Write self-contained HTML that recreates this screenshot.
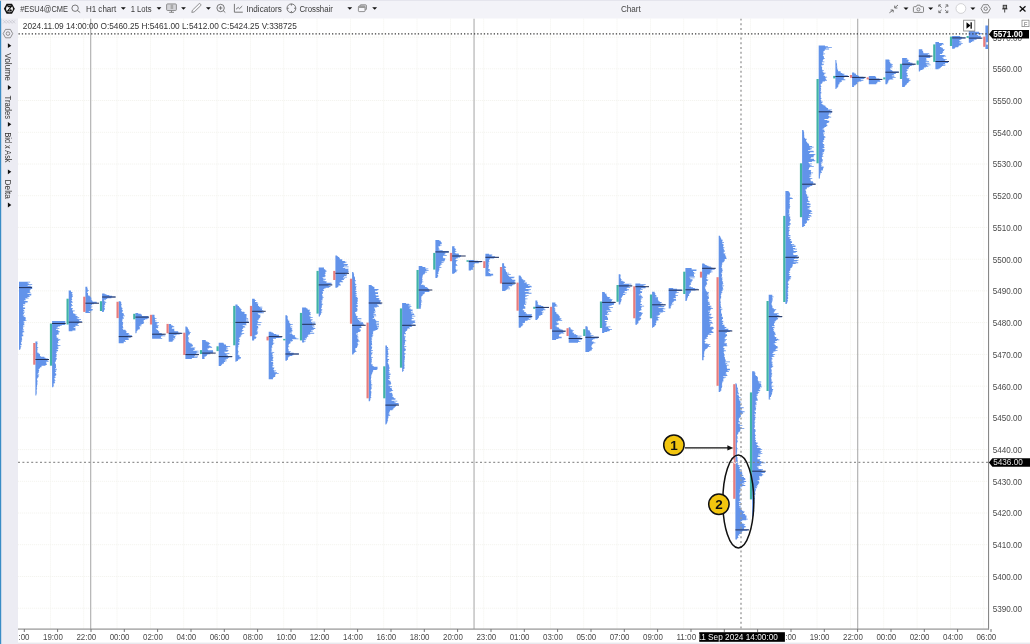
<!DOCTYPE html>
<html><head><meta charset="utf-8"><title>Chart</title>
<style>
html,body{margin:0;padding:0;background:#fff;}
body{width:1030px;height:644px;overflow:hidden;font-family:"Liberation Sans",sans-serif;}
svg{display:block;position:absolute;left:0;top:0;}
text{font-family:"Liberation Sans",sans-serif;}
.tb{font-size:8.6px;fill:#333;}
.ax{font-size:8.3px;fill:#4a4a4a;}
</style></head><body>
<svg width="1030" height="644" viewBox="0 0 1030 644">

<rect x="0" y="0" width="1030" height="644" fill="#fff"/>
<g stroke="#f4f4ef" stroke-width="1" stroke-dasharray="1.2 0.8" fill="none">
<path d="M18,608.2H988.5"/>
<path d="M18,576.5H988.5"/>
<path d="M18,544.7H988.5"/>
<path d="M18,513.0H988.5"/>
<path d="M18,481.3H988.5"/>
<path d="M18,449.6H988.5"/>
<path d="M18,417.8H988.5"/>
<path d="M18,386.1H988.5"/>
<path d="M18,354.4H988.5"/>
<path d="M18,322.6H988.5"/>
<path d="M18,290.9H988.5"/>
<path d="M18,259.2H988.5"/>
<path d="M18,227.4H988.5"/>
<path d="M18,195.7H988.5"/>
<path d="M18,164.0H988.5"/>
<path d="M18,132.3H988.5"/>
<path d="M18,100.5H988.5"/>
<path d="M18,68.8H988.5"/>
<path d="M18,37.1H988.5"/>
<path d="M17.0,18.5V629"/>
<path d="M50.4,18.5V629"/>
<path d="M83.7,18.5V629"/>
<path d="M117.0,18.5V629"/>
<path d="M150.4,18.5V629"/>
<path d="M183.7,18.5V629"/>
<path d="M217.0,18.5V629"/>
<path d="M250.4,18.5V629"/>
<path d="M283.7,18.5V629"/>
<path d="M317.0,18.5V629"/>
<path d="M350.4,18.5V629"/>
<path d="M383.7,18.5V629"/>
<path d="M417.0,18.5V629"/>
<path d="M450.4,18.5V629"/>
<path d="M483.7,18.5V629"/>
<path d="M517.0,18.5V629"/>
<path d="M550.4,18.5V629"/>
<path d="M583.7,18.5V629"/>
<path d="M617.0,18.5V629"/>
<path d="M650.4,18.5V629"/>
<path d="M683.7,18.5V629"/>
<path d="M717.0,18.5V629"/>
<path d="M750.4,18.5V629"/>
<path d="M783.7,18.5V629"/>
<path d="M817.0,18.5V629"/>
<path d="M850.4,18.5V629"/>
<path d="M883.7,18.5V629"/>
<path d="M917.1,18.5V629"/>
<path d="M950.4,18.5V629"/>
<path d="M983.7,18.5V629"/>
</g>
<rect x="90.0" y="18.5" width="1.3" height="610.5" fill="#b9b9b9"/>
<rect x="473.4" y="18.5" width="1.3" height="610.5" fill="#b9b9b9"/>
<rect x="857.0" y="18.5" width="1.3" height="610.5" fill="#b9b9b9"/>
<g>
<path d="M19.0,281.80H30.2V282.60H27.7V283.40H29.0V284.20H32.2V285.00H27.7V285.80H30.8V286.60H32.2V287.40H32.2V288.20H32.2V289.00H30.8V289.80H29.7V290.60H30.1V291.40H29.6V292.20H30.5V293.00H27.5V293.80H31.4V294.60H31.2V295.40H28.8V296.20H29.8V297.00H27.4V297.80H28.7V298.60H25.2V299.40H26.1V300.20H24.3V301.00H27.7V301.80H27.6V302.60H25.2V303.40H25.3V304.20H23.1V305.00H24.5V305.80H23.0V306.60H23.1V307.40H25.1V308.20H25.1V309.00H23.2V309.80H24.0V310.60H24.5V311.40H23.0V312.20H24.6V313.00H24.0V313.80H23.7V314.60H22.9V315.40H24.7V316.20H23.8V317.00H25.6V317.80H25.4V318.60H26.0V319.40H25.1V320.20H26.4V321.00H23.6V321.80H24.6V322.60H23.7V323.40H24.3V324.20H24.3V325.00H23.1V325.80H24.4V326.60H22.9V327.40H23.4V328.20H23.0V329.00H23.7V329.80H22.5V330.60H23.7V331.40H24.3V332.20H22.7V333.00H22.6V333.80H22.3V334.60H23.2V335.40H23.3V336.20H21.8V337.00H21.7V337.80H22.1V338.60H21.9V339.40H22.2V340.20H21.6V341.00H21.9V341.80H21.1V342.60H21.1V343.40H21.4V344.20H21.8V345.00H20.3V345.80H21.4V346.60H20.7V347.40H20.7V348.20H20.5V349.00H20.2V349.80H19.0Z" fill="#6293ea"/>
<rect x="19.0" y="287.10" width="13" height="1.0" fill="#22315a"/>
<path d="M35.4,341.60H37.5V342.40H37.2V343.21H37.7V344.01H37.2V344.81H37.5V345.61H37.0V346.42H37.3V347.22H38.2V348.02H37.3V348.83H37.7V349.63H37.0V350.43H37.7V351.24H37.2V352.04H37.4V352.84H38.7V353.64H39.9V354.45H40.0V355.25H40.0V356.05H40.7V356.86H44.4V357.66H45.6V358.46H47.8V359.27H47.0V360.07H47.5V360.87H48.6V361.67H45.9V362.48H46.5V363.28H46.4V364.08H46.8V364.89H45.5V365.69H41.5V366.49H41.5V367.30H40.1V368.10H39.6V368.90H38.6V369.70H39.1V370.51H39.1V371.31H38.7V372.11H38.7V372.92H38.2V373.72H37.5V374.52H39.2V375.33H38.4V376.13H38.7V376.93H38.2V377.73H37.5V378.54H37.2V379.34H37.0V380.14H37.5V380.95H37.6V381.75H37.3V382.55H37.3V383.36H37.4V384.16H37.3V384.96H37.1V385.76H37.0V386.57H37.1V387.37H36.7V388.17H37.1V388.98H36.9V389.78H36.5V390.58H36.7V391.39H36.7V392.19H36.7V392.99H36.7V393.79H36.5V394.60H36.3V395.40H35.4Z" fill="#6293ea"/>
<rect x="33.2" y="343.0" width="2.2" height="21.7" fill="#e87c7c"/>
<rect x="35.4" y="359.00" width="13.6" height="1.0" fill="#22315a"/>
<path d="M52.1,321.00H65.3V321.80H65.3V322.60H65.3V323.39H64.7V324.19H65.3V324.99H61.7V325.79H59.9V326.58H57.9V327.38H56.7V328.18H59.3V328.98H56.0V329.77H58.0V330.57H58.7V331.37H59.8V332.17H58.5V332.96H58.6V333.76H58.8V334.56H57.1V335.36H56.3V336.15H56.8V336.95H56.7V337.75H58.4V338.55H57.8V339.34H60.3V340.14H58.8V340.94H58.0V341.74H58.1V342.53H58.5V343.33H57.4V344.13H57.9V344.93H60.4V345.73H58.4V346.52H57.4V347.32H58.3V348.12H58.3V348.92H56.7V349.71H57.9V350.51H58.1V351.31H56.5V352.11H56.6V352.90H55.9V353.70H56.5V354.50H57.1V355.30H56.3V356.09H56.5V356.89H55.7V357.69H56.6V358.49H56.9V359.28H56.3V360.08H55.9V360.88H55.9V361.68H54.9V362.47H55.2V363.27H55.4V364.07H55.8V364.87H56.0V365.67H55.8V366.46H56.1V367.26H56.0V368.06H55.1V368.86H56.8V369.65H55.3V370.45H56.3V371.25H55.9V372.05H55.0V372.84H55.6V373.64H56.3V374.44H56.2V375.24H55.6V376.03H54.7V376.83H55.6V377.63H54.8V378.43H54.1V379.22H54.9V380.02H55.4V380.82H54.5V381.62H54.7V382.41H55.1V383.21H53.7V384.01H53.6V384.81H53.7V385.60H53.7V386.40H53.2V387.20H52.1Z" fill="#6293ea"/>
<rect x="49.9" y="323.5" width="2.2" height="42.2" fill="#40b3a6"/>
<rect x="52.1" y="323.00" width="13.6" height="1.0" fill="#22315a"/>
<path d="M68.7,290.50H71.0V291.30H71.1V292.10H72.4V292.90H71.8V293.70H72.3V294.50H72.7V295.30H72.4V296.10H72.7V296.90H72.1V297.70H71.6V298.50H72.0V299.30H72.2V300.10H71.5V300.90H72.0V301.70H73.0V302.50H71.6V303.30H71.1V304.10H72.0V304.90H72.8V305.70H71.3V306.50H71.6V307.30H70.9V308.10H72.7V308.90H72.2V309.70H72.4V310.50H74.8V311.30H73.2V312.10H73.0V312.90H73.5V313.70H75.2V314.50H76.6V315.30H75.6V316.10H77.5V316.90H79.2V317.70H76.8V318.50H78.4V319.30H81.0V320.10H79.3V320.90H81.9V321.70H79.4V322.50H79.3V323.30H78.4V324.10H77.6V324.90H78.9V325.70H75.2V326.50H75.7V327.30H73.7V328.10H75.4V328.90H75.4V329.70H75.5V330.50H72.4V331.30H68.7Z" fill="#6293ea"/>
<rect x="66.5" y="298.7" width="2.2" height="25.8" fill="#40b3a6"/>
<rect x="68.7" y="321.70" width="13.6" height="1.0" fill="#22315a"/>
<path d="M85.4,286.70H87.4V287.49H87.1V288.29H87.7V289.08H87.7V289.88H88.8V290.67H87.7V291.46H87.8V292.26H87.1V293.05H88.0V293.85H88.0V294.64H88.0V295.43H89.5V296.23H90.3V297.02H90.8V297.82H91.4V298.61H91.2V299.40H91.4V300.20H92.2V300.99H92.5V301.78H96.6V302.58H96.9V303.37H93.8V304.17H92.0V304.96H91.3V305.75H90.4V306.55H92.4V307.34H91.2V308.14H90.8V308.93H92.8V309.72H92.5V310.52H91.3V311.31H88.8V312.11H90.3V312.90H85.4Z" fill="#6293ea"/>
<rect x="83.2" y="296.7" width="2.2" height="15.2" fill="#e87c7c"/>
<rect x="85.4" y="302.70" width="13.6" height="1.0" fill="#22315a"/>
<path d="M102.1,293.40H104.6V294.20H106.5V295.01H109.3V295.81H112.1V296.62H115.3V297.42H111.4V298.23H107.2V299.03H106.1V299.83H103.9V300.64H105.5V301.44H104.4V302.25H106.3V303.05H105.1V303.86H105.2V304.66H104.5V305.47H104.3V306.27H104.8V307.07H104.3V307.88H104.8V308.68H104.9V309.49H104.4V310.29H104.0V311.10H103.8V311.90H102.1Z" fill="#6293ea"/>
<rect x="99.9" y="301.2" width="2.2" height="9.8" fill="#40b3a6"/>
<rect x="102.1" y="296.50" width="13.6" height="1.0" fill="#22315a"/>
<path d="M118.7,301.20H120.7V301.99H121.3V302.79H121.0V303.58H121.4V304.38H121.9V305.17H121.1V305.97H121.3V306.76H121.4V307.55H122.1V308.35H122.6V309.14H121.9V309.94H122.9V310.73H122.4V311.53H122.7V312.32H121.9V313.12H123.5V313.91H123.9V314.70H123.6V315.50H124.8V316.29H122.9V317.09H123.5V317.88H123.8V318.68H122.4V319.47H122.6V320.26H122.3V321.06H122.0V321.85H123.1V322.65H123.2V323.44H122.8V324.24H122.9V325.03H122.5V325.82H122.9V326.62H123.0V327.41H123.4V328.21H122.5V329.00H123.0V329.80H125.4V330.59H126.1V331.38H126.8V332.18H126.2V332.97H129.2V333.77H128.2V334.56H129.6V335.36H131.9V336.15H128.0V336.95H130.8V337.74H127.8V338.53H129.1V339.33H128.6V340.12H125.1V340.92H125.9V341.71H123.7V342.51H123.7V343.30H118.7Z" fill="#6293ea"/>
<rect x="116.5" y="301.8" width="2.2" height="16.3" fill="#e87c7c"/>
<rect x="118.7" y="336.10" width="13.6" height="1.0" fill="#22315a"/>
<path d="M135.4,312.90H138.2V313.68H140.8V314.47H141.9V315.25H141.9V316.04H148.1V316.82H148.6V317.61H148.6V318.39H147.4V319.18H145.1V319.96H143.7V320.75H143.7V321.53H143.6V322.32H144.0V323.10H143.5V323.88H141.7V324.67H140.3V325.45H141.4V326.24H139.3V327.02H139.7V327.81H140.0V328.59H139.5V329.38H137.8V330.16H137.3V330.95H136.6V331.73H136.8V332.52H136.3V333.30H135.4Z" fill="#6293ea"/>
<rect x="133.2" y="313.8" width="2.2" height="5.5" fill="#40b3a6"/>
<rect x="135.4" y="316.60" width="13.6" height="1.0" fill="#22315a"/>
<path d="M152.1,314.80H154.4V315.60H154.7V316.39H154.3V317.19H154.9V317.99H156.5V318.78H154.9V319.58H155.0V320.38H156.5V321.17H155.2V321.97H158.9V322.77H156.7V323.56H157.6V324.36H156.7V325.16H158.7V325.95H157.8V326.75H158.4V327.55H157.9V328.34H155.9V329.14H157.1V329.94H158.0V330.73H158.6V331.53H159.4V332.33H159.1V333.12H161.7V333.92H164.2V334.72H162.5V335.51H165.3V336.31H161.2V337.11H160.9V337.90H162.2V338.70H152.1Z" fill="#6293ea"/>
<rect x="149.9" y="314.8" width="2.2" height="9.7" fill="#e87c7c"/>
<rect x="152.1" y="333.70" width="13.6" height="1.0" fill="#22315a"/>
<path d="M168.7,323.90H171.0V324.71H171.4V325.53H172.8V326.34H174.2V327.15H172.2V327.97H171.8V328.78H174.4V329.60H174.1V330.41H174.5V331.22H178.2V332.04H178.4V332.85H180.9V333.66H179.7V334.48H176.5V335.29H173.7V336.10H175.4V336.92H174.9V337.73H175.4V338.55H173.2V339.36H174.2V340.17H172.8V340.99H172.6V341.80H168.7Z" fill="#6293ea"/>
<rect x="166.5" y="323.9" width="2.2" height="9.4" fill="#e87c7c"/>
<rect x="168.7" y="332.80" width="13.6" height="1.0" fill="#22315a"/>
<path d="M185.4,326.50H186.7V327.31H187.7V328.12H187.9V328.93H188.6V329.74H188.5V330.55H189.3V331.36H189.4V332.17H190.8V332.98H189.9V333.79H189.9V334.60H188.6V335.41H188.2V336.22H188.0V337.03H188.5V337.84H188.9V338.65H187.9V339.46H189.2V340.27H188.3V341.08H188.5V341.89H189.1V342.70H190.3V343.51H191.7V344.32H192.4V345.13H193.0V345.94H192.5V346.75H190.7V347.56H195.3V348.37H194.4V349.18H194.7V349.99H193.3V350.80H198.6V351.61H196.7V352.42H198.6V353.23H196.3V354.04H198.6V354.85H194.9V355.66H198.0V356.47H194.2V357.28H197.4V358.09H191.9V358.90H185.4Z" fill="#6293ea"/>
<rect x="183.2" y="332.7" width="2.2" height="22.3" fill="#e87c7c"/>
<rect x="185.4" y="354.10" width="13.6" height="1.0" fill="#22315a"/>
<path d="M202.1,339.90H205.7V340.69H205.8V341.48H207.5V342.28H209.1V343.07H210.2V343.86H209.2V344.65H208.4V345.44H209.8V346.23H211.3V347.03H212.1V347.82H208.9V348.61H207.4V349.40H208.1V350.19H213.0V350.98H213.1V351.78H213.2V352.57H212.8V353.36H210.2V354.15H207.4V354.94H207.0V355.73H206.1V356.53H204.6V357.32H204.4V358.11H204.6V358.90H202.1Z" fill="#6293ea"/>
<rect x="199.9" y="350.1" width="2.2" height="3.9" fill="#40b3a6"/>
<rect x="202.1" y="352.60" width="13.6" height="1.0" fill="#22315a"/>
<path d="M218.7,342.80H223.4V343.60H224.1V344.41H226.0V345.21H226.1V346.01H230.2V346.82H227.6V347.62H226.4V348.42H228.1V349.23H226.3V350.03H228.5V350.83H227.6V351.64H224.3V352.44H225.3V353.24H229.4V354.05H226.6V354.85H227.9V355.66H226.5V356.46H231.9V357.26H228.7V358.07H228.0V358.87H226.4V359.67H224.7V360.48H226.7V361.28H225.1V362.08H223.9V362.89H223.8V363.69H222.2V364.49H221.7V365.30H221.0V366.10H218.7Z" fill="#6293ea"/>
<rect x="216.5" y="346.3" width="2.2" height="4.8" fill="#40b3a6"/>
<rect x="218.7" y="356.10" width="13.6" height="1.0" fill="#22315a"/>
<path d="M235.4,304.50H237.5V305.30H237.7V306.09H239.0V306.89H239.5V307.68H240.2V308.48H240.8V309.28H241.7V310.07H241.0V310.87H241.7V311.66H244.2V312.46H245.1V313.25H244.3V314.05H246.5V314.85H246.6V315.64H246.5V316.44H246.4V317.23H246.6V318.03H248.1V318.83H246.0V319.62H248.3V320.42H245.9V321.21H248.6V322.01H248.5V322.80H246.5V323.60H245.9V324.40H246.6V325.19H242.7V325.99H244.6V326.78H245.3V327.58H243.2V328.38H242.8V329.17H242.0V329.97H243.6V330.76H242.6V331.56H241.9V332.35H241.5V333.15H244.2V333.95H242.3V334.74H240.7V335.54H241.4V336.33H240.5V337.13H239.4V337.93H238.9V338.72H239.8V339.52H239.7V340.31H239.1V341.11H239.5V341.90H238.3V342.70H239.6V343.50H238.8V344.29H239.3V345.09H238.2V345.88H238.6V346.68H237.8V347.48H238.3V348.27H237.8V349.07H237.8V349.86H238.1V350.66H237.9V351.45H239.0V352.25H238.0V353.05H238.2V353.84H237.8V354.64H238.7V355.43H239.7V356.23H239.4V357.03H240.8V357.82H241.0V358.62H239.5V359.41H238.0V360.21H237.9V361.00H236.5V361.80H235.4Z" fill="#6293ea"/>
<rect x="233.2" y="305.9" width="2.2" height="39.4" fill="#40b3a6"/>
<rect x="235.4" y="321.90" width="13.6" height="1.0" fill="#22315a"/>
<path d="M252.1,298.70H254.6V299.50H254.9V300.30H256.1V301.11H255.0V301.91H257.6V302.71H256.6V303.51H258.3V304.31H258.0V305.12H258.1V305.92H259.0V306.72H262.3V307.52H260.3V308.32H262.2V309.12H262.0V309.93H263.3V310.73H261.8V311.53H261.8V312.33H263.8V313.13H257.8V313.94H258.5V314.74H260.6V315.54H259.9V316.34H260.5V317.14H259.9V317.95H259.3V318.75H258.6V319.55H258.6V320.35H257.5V321.15H258.2V321.96H261.5V322.76H257.9V323.56H257.1V324.36H260.7V325.16H256.8V325.97H258.1V326.77H258.0V327.57H258.5V328.37H257.5V329.17H257.5V329.97H257.3V330.78H256.7V331.58H258.1V332.38H257.3V333.18H257.8V333.98H257.1V334.79H255.7V335.59H254.7V336.39H256.2V337.19H256.4V337.99H255.9V338.80H254.4V339.60H254.1V340.40H252.1Z" fill="#6293ea"/>
<rect x="249.9" y="305.9" width="2.2" height="30.3" fill="#e87c7c"/>
<rect x="252.1" y="310.80" width="13.6" height="1.0" fill="#22315a"/>
<path d="M268.7,331.70H271.4V332.49H273.0V333.29H274.0V334.08H276.3V334.87H279.1V335.67H278.7V336.46H279.5V337.25H281.8V338.05H276.0V338.84H273.0V339.63H273.2V340.43H273.6V341.22H272.9V342.01H272.9V342.81H274.3V343.60H273.3V344.39H272.9V345.19H271.9V345.98H272.0V346.77H272.5V347.57H271.7V348.36H271.5V349.15H271.7V349.95H271.5V350.74H272.2V351.53H270.9V352.33H274.2V353.12H272.6V353.91H272.3V354.71H272.5V355.50H273.2V356.29H272.4V357.09H273.3V357.88H273.1V358.67H272.6V359.47H272.7V360.26H273.3V361.05H271.2V361.85H273.1V362.64H273.2V363.43H273.2V364.23H272.7V365.02H273.5V365.81H272.4V366.61H272.6V367.40H274.4V368.19H274.0V368.99H273.4V369.78H273.9V370.57H276.1V371.37H274.4V372.16H277.0V372.95H278.7V373.75H275.8V374.54H275.3V375.33H275.2V376.13H275.2V376.92H273.7V377.71H272.9V378.51H273.0V379.30H268.7Z" fill="#6293ea"/>
<rect x="266.5" y="336.6" width="2.2" height="3.8" fill="#e87c7c"/>
<rect x="268.7" y="336.10" width="13.6" height="1.0" fill="#22315a"/>
<path d="M285.4,315.20H287.1V316.00H287.6V316.80H287.6V317.60H287.7V318.40H287.5V319.20H288.1V320.00H288.3V320.80H289.5V321.60H289.1V322.40H289.5V323.20H290.2V324.00H292.8V324.80H290.8V325.60H290.0V326.40H292.3V327.20H290.7V328.00H292.2V328.80H291.5V329.60H292.2V330.40H292.7V331.20H291.6V332.00H291.7V332.80H289.7V333.60H292.0V334.40H292.9V335.20H295.0V336.00H294.8V336.80H295.2V337.60H296.3V338.40H298.5V339.20H292.2V340.00H293.0V340.80H292.2V341.60H290.2V342.40H290.8V343.20H289.6V344.00H288.9V344.80H288.4V345.60H288.6V346.40H289.3V347.20H288.0V348.00H288.0V348.80H288.6V349.60H288.6V350.40H288.6V351.20H290.7V352.00H289.9V352.80H293.7V353.60H298.6V354.40H293.4V355.20H292.2V356.00H289.6V356.80H288.6V357.60H287.9V358.40H288.0V359.20H287.8V360.00H286.9V360.80H285.4Z" fill="#6293ea"/>
<rect x="283.2" y="338.9" width="2.2" height="1.5" fill="#40b3a6"/>
<rect x="285.4" y="353.50" width="13.6" height="1.0" fill="#22315a"/>
<path d="M302.1,307.40H306.1V308.20H307.4V308.99H307.7V309.79H310.0V310.58H309.4V311.38H309.6V312.17H310.8V312.97H310.2V313.76H310.6V314.56H310.7V315.35H309.3V316.15H310.5V316.95H312.7V317.74H310.5V318.54H310.3V319.33H312.6V320.13H311.4V320.92H311.0V321.72H315.3V322.51H311.9V323.31H315.3V324.10H312.2V324.90H314.2V325.70H312.2V326.49H314.6V327.29H313.2V328.08H315.3V328.88H313.9V329.67H312.6V330.47H311.0V331.26H312.7V332.06H310.1V332.85H314.2V333.65H310.2V334.45H308.4V335.24H307.8V336.04H308.3V336.83H306.8V337.63H306.8V338.42H304.9V339.22H306.1V340.01H303.8V340.81H305.7V341.60H304.2V342.40H302.1Z" fill="#6293ea"/>
<rect x="299.9" y="312.9" width="2.2" height="27.5" fill="#40b3a6"/>
<rect x="302.1" y="323.80" width="13.6" height="1.0" fill="#22315a"/>
<path d="M318.7,267.60H324.0V268.40H323.9V269.21H325.2V270.01H325.7V270.81H326.8V271.62H325.7V272.42H325.1V273.22H325.6V274.03H324.8V274.83H325.4V275.63H325.6V276.44H324.7V277.24H322.6V278.04H323.3V278.85H325.8V279.65H323.2V280.45H324.7V281.26H326.6V282.06H326.4V282.86H331.6V283.67H330.5V284.47H331.9V285.27H328.5V286.08H330.5V286.88H329.2V287.68H325.6V288.49H324.1V289.29H323.2V290.09H323.9V290.90H322.5V291.70H323.1V292.50H322.8V293.30H322.8V294.11H322.1V294.91H322.2V295.71H323.1V296.52H322.3V297.32H323.6V298.12H322.6V298.93H322.5V299.73H322.5V300.53H321.3V301.34H322.2V302.14H321.7V302.94H321.7V303.75H323.1V304.55H322.2V305.35H321.8V306.16H321.8V306.96H321.9V307.76H321.1V308.57H321.2V309.37H322.3V310.17H321.6V310.98H321.2V311.78H322.2V312.58H321.2V313.39H320.8V314.19H320.8V314.99H320.1V315.80H320.0V316.60H318.7Z" fill="#6293ea"/>
<rect x="316.5" y="270.9" width="2.2" height="42.7" fill="#40b3a6"/>
<rect x="318.7" y="284.40" width="13.6" height="1.0" fill="#22315a"/>
<path d="M335.4,255.40H337.1V256.19H338.1V256.98H339.0V257.77H339.9V258.56H339.7V259.35H342.2V260.14H342.2V260.93H344.9V261.72H346.6V262.51H345.4V263.30H343.6V264.09H347.8V264.88H347.3V265.67H344.0V266.46H348.6V267.25H342.9V268.04H345.2V268.83H348.6V269.62H348.1V270.41H348.6V271.20H348.6V272.00H347.9V272.79H348.6V273.58H345.3V274.37H347.1V275.16H346.4V275.95H344.0V276.74H346.9V277.53H343.0V278.32H344.8V279.11H343.9V279.90H341.4V280.69H342.3V281.48H343.1V282.27H339.7V283.06H339.4V283.85H340.3V284.64H340.9V285.43H338.4V286.22H338.3V287.01H337.4V287.80H335.4Z" fill="#6293ea"/>
<rect x="333.2" y="270.9" width="2.2" height="9.1" fill="#e87c7c"/>
<rect x="335.4" y="272.80" width="13.6" height="1.0" fill="#22315a"/>
<path d="M352.1,271.90H353.3V272.70H353.8V273.50H353.8V274.30H354.1V275.10H354.0V275.90H354.2V276.71H354.9V277.51H354.9V278.31H355.0V279.11H355.0V279.91H355.7V280.71H355.6V281.51H354.7V282.31H355.2V283.11H355.3V283.91H356.4V284.72H355.8V285.52H354.9V286.32H356.5V287.12H356.1V287.92H355.8V288.72H356.4V289.52H355.7V290.32H355.4V291.12H356.6V291.92H355.6V292.73H356.3V293.53H356.9V294.33H355.6V295.13H356.8V295.93H355.8V296.73H357.2V297.53H357.3V298.33H358.0V299.13H357.5V299.93H357.7V300.73H357.7V301.54H357.5V302.34H357.1V303.14H357.8V303.94H356.4V304.74H357.3V305.54H358.0V306.34H357.5V307.14H356.3V307.94H357.0V308.74H357.9V309.55H357.1V310.35H357.4V311.15H356.6V311.95H355.2V312.75H355.0V313.55H356.3V314.35H355.8V315.15H356.3V315.95H357.6V316.75H357.5V317.56H357.0V318.36H361.4V319.16H357.9V319.96H359.0V320.76H361.3V321.56H359.8V322.36H363.1V323.16H363.4V323.96H364.2V324.76H362.3V325.57H361.1V326.37H361.2V327.17H361.6V327.97H359.5V328.77H359.6V329.57H360.8V330.37H360.7V331.17H359.8V331.97H358.1V332.77H357.6V333.57H356.1V334.38H358.2V335.18H357.3V335.98H357.7V336.78H358.5V337.58H357.1V338.38H358.3V339.18H358.4V339.98H358.6V340.78H359.8V341.58H358.1V342.39H356.9V343.19H358.0V343.99H358.3V344.79H357.5V345.59H357.8V346.39H357.0V347.19H356.9V347.99H355.5V348.79H355.1V349.59H355.6V350.40H355.6V351.20H356.5V352.00H354.9V352.80H353.9V353.60H353.5V354.40H352.1Z" fill="#6293ea"/>
<rect x="349.9" y="278.7" width="2.2" height="45.0" fill="#e87c7c"/>
<rect x="352.1" y="324.80" width="13.6" height="1.0" fill="#22315a"/>
<path d="M368.7,285.10H371.7V285.90H372.8V286.70H374.2V287.50H374.6V288.31H374.3V289.11H378.5V289.91H377.4V290.71H374.9V291.51H375.3V292.31H378.1V293.11H378.0V293.92H375.4V294.72H375.8V295.52H378.6V296.32H378.5V297.12H376.3V297.92H379.3V298.72H378.7V299.52H379.5V300.33H380.9V301.13H380.3V301.93H380.1V302.73H381.0V303.53H381.7V304.33H377.3V305.13H378.4V305.94H378.9V306.74H376.7V307.54H374.1V308.34H374.7V309.14H375.1V309.94H375.0V310.74H375.7V311.55H373.9V312.35H375.2V313.15H373.6V313.95H375.9V314.75H373.3V315.55H376.2V316.35H374.0V317.16H374.1V317.96H372.7V318.76H375.1V319.56H375.3V320.36H376.2V321.16H378.9V321.96H376.3V322.76H379.0V323.57H375.9V324.37H379.0V325.17H376.7V325.97H379.0V326.77H377.0V327.57H378.5V328.37H378.1V329.18H377.2V329.98H375.5V330.78H373.6V331.58H372.9V332.38H373.2V333.18H373.1V333.98H372.4V334.79H373.3V335.59H372.4V336.39H372.6V337.19H371.5V337.99H371.7V338.79H372.2V339.59H371.5V340.40H371.7V341.20H372.0V342.00H371.7V342.80H372.0V343.60H372.0V344.40H372.2V345.20H371.1V346.00H371.5V346.81H372.2V347.61H372.0V348.41H371.7V349.21H371.2V350.01H372.9V350.81H371.5V351.61H371.1V352.42H372.8V353.22H372.0V354.02H371.7V354.82H371.3V355.62H371.2V356.42H371.1V357.22H372.8V358.03H371.4V358.83H371.9V359.63H371.7V360.43H371.6V361.23H371.8V362.03H371.6V362.83H371.2V363.64H371.6V364.44H372.9V365.24H372.4V366.04H373.7V366.84H377.6V367.64H377.3V368.44H377.8V369.24H376.8V370.05H373.2V370.85H373.1V371.65H372.5V372.45H372.4V373.25H372.1V374.05H371.7V374.85H371.4V375.66H370.9V376.46H371.4V377.26H371.2V378.06H371.0V378.86H370.9V379.66H370.7V380.46H371.5V381.27H371.0V382.07H371.3V382.87H371.1V383.67H371.4V384.47H372.3V385.27H371.3V386.07H371.4V386.88H371.5V387.68H371.6V388.48H371.6V389.28H370.9V390.08H370.7V390.88H371.2V391.68H371.5V392.48H371.2V393.29H371.2V394.09H371.1V394.89H371.2V395.69H370.8V396.49H370.8V397.29H371.3V398.09H370.4V398.90H370.4V399.70H370.2V400.50H369.9V401.30H368.7Z" fill="#6293ea"/>
<rect x="366.5" y="322.6" width="2.2" height="75.7" fill="#e87c7c"/>
<rect x="368.7" y="302.50" width="13.6" height="1.0" fill="#22315a"/>
<path d="M385.4,345.50H387.0V346.30H387.0V347.10H388.0V347.90H387.5V348.70H389.2V349.49H387.9V350.29H387.8V351.09H388.1V351.89H387.8V352.69H388.6V353.49H388.1V354.29H388.4V355.09H387.6V355.89H388.6V356.69H387.6V357.48H387.4V358.28H387.5V359.08H389.1V359.88H388.1V360.68H388.4V361.48H388.1V362.28H387.6V363.08H388.2V363.88H388.5V364.68H389.2V365.47H388.9V366.27H389.2V367.07H389.4V367.87H389.6V368.67H389.1V369.47H388.9V370.27H389.8V371.07H388.8V371.87H389.6V372.67H388.8V373.46H390.5V374.26H390.5V375.06H388.8V375.86H390.1V376.66H389.5V377.46H389.2V378.26H390.0V379.06H388.2V379.86H389.3V380.66H390.4V381.45H390.5V382.25H391.0V383.05H391.2V383.85H390.7V384.65H388.5V385.45H389.8V386.25H392.0V387.05H390.0V387.85H391.6V388.65H391.9V389.44H392.0V390.24H393.1V391.04H391.3V391.84H389.6V392.64H392.0V393.44H392.4V394.24H392.6V395.04H392.9V395.84H392.3V396.64H393.3V397.43H394.0V398.23H395.5V399.03H395.4V399.83H391.6V400.63H397.3V401.43H394.2V402.23H395.6V403.03H398.6V403.83H398.6V404.63H396.5V405.42H396.1V406.22H395.5V407.02H394.8V407.82H393.7V408.62H393.3V409.42H392.4V410.22H390.0V411.02H389.9V411.82H389.1V412.62H389.5V413.41H388.6V414.21H389.5V415.01H390.2V415.81H388.3V416.61H388.4V417.41H388.4V418.21H387.9V419.01H387.7V419.81H388.1V420.61H387.7V421.40H387.3V422.20H387.2V423.00H386.9V423.80H386.3V424.60H385.4Z" fill="#6293ea"/>
<rect x="383.2" y="366.3" width="2.2" height="32.0" fill="#40b3a6"/>
<rect x="385.4" y="404.60" width="13.6" height="1.0" fill="#22315a"/>
<path d="M402.1,303.00H406.0V303.80H409.0V304.60H410.5V305.40H408.5V306.20H411.4V306.99H410.2V307.79H409.2V308.59H410.6V309.39H412.6V310.19H412.5V310.99H410.9V311.79H413.0V312.59H411.3V313.38H413.9V314.18H414.3V314.98H412.2V315.78H415.3V316.58H411.8V317.38H412.3V318.18H413.7V318.98H411.6V319.78H411.6V320.57H415.3V321.37H414.7V322.17H415.3V322.97H413.2V323.77H411.5V324.57H415.3V325.37H411.4V326.17H412.1V326.97H409.2V327.76H410.0V328.56H407.4V329.36H407.3V330.16H406.8V330.96H405.9V331.76H405.0V332.56H405.2V333.36H406.0V334.15H404.1V334.95H404.2V335.75H404.6V336.55H406.0V337.35H404.8V338.15H405.1V338.95H404.8V339.75H405.5V340.55H406.3V341.34H404.9V342.14H405.0V342.94H404.7V343.74H405.3V344.54H404.6V345.34H404.1V346.14H406.3V346.94H404.5V347.73H404.7V348.53H405.5V349.33H405.9V350.13H405.4V350.93H404.4V351.73H404.3V352.53H404.4V353.33H405.6V354.13H404.7V354.92H404.3V355.72H404.9V356.52H404.9V357.32H404.9V358.12H404.7V358.92H404.8V359.72H404.4V360.52H404.4V361.32H404.6V362.11H404.3V362.91H404.3V363.71H404.4V364.51H404.4V365.31H404.6V366.11H404.3V366.91H404.4V367.71H404.8V368.50H404.0V369.30H403.3V370.10H403.7V370.90H403.1V371.70H402.1Z" fill="#6293ea"/>
<rect x="399.9" y="308.4" width="2.2" height="59.3" fill="#40b3a6"/>
<rect x="402.1" y="324.80" width="13.6" height="1.0" fill="#22315a"/>
<path d="M418.7,266.10H422.4V266.91H425.4V267.71H425.3V268.52H428.3V269.32H426.3V270.13H428.6V270.93H425.4V271.74H427.1V272.55H425.1V273.35H424.7V274.16H423.3V274.96H422.7V275.77H423.0V276.57H422.1V277.38H422.7V278.18H422.0V278.99H422.5V279.80H422.5V280.60H422.0V281.41H423.3V282.21H422.0V283.02H422.0V283.82H421.1V284.63H423.6V285.44H425.1V286.24H425.0V287.05H426.8V287.85H428.0V288.66H428.9V289.46H429.2V290.27H429.6V291.08H429.4V291.88H424.7V292.69H424.9V293.49H424.1V294.30H422.8V295.10H422.5V295.91H421.7V296.72H421.0V297.52H421.6V298.33H421.2V299.13H421.3V299.94H421.8V300.74H420.9V301.55H422.2V302.35H421.2V303.16H421.0V303.97H421.4V304.77H421.2V305.58H420.8V306.38H421.1V307.19H420.7V307.99H420.8V308.80H418.7Z" fill="#6293ea"/>
<rect x="416.5" y="270.0" width="2.2" height="38.8" fill="#40b3a6"/>
<rect x="418.7" y="289.50" width="13.6" height="1.0" fill="#22315a"/>
<path d="M435.4,239.90H439.3V240.70H440.5V241.49H441.0V242.29H441.7V243.08H441.7V243.88H440.2V244.67H441.6V245.47H440.1V246.27H438.5V247.06H438.6V247.86H438.8V248.65H439.7V249.45H438.6V250.25H442.7V251.04H448.4V251.84H448.6V252.63H444.8V253.43H445.7V254.22H444.5V255.02H446.8V255.82H443.1V256.61H442.9V257.41H443.3V258.20H445.3V259.00H445.2V259.80H445.0V260.59H444.4V261.39H441.6V262.18H443.5V262.98H441.3V263.77H442.2V264.57H440.6V265.37H440.4V266.16H439.4V266.96H441.4V267.75H439.4V268.55H439.1V269.35H439.4V270.14H438.9V270.94H438.8V271.73H438.3V272.53H438.3V273.33H438.5V274.12H437.6V274.92H438.1V275.71H438.2V276.51H437.6V277.30H437.3V278.10H435.4Z" fill="#6293ea"/>
<rect x="433.2" y="252.9" width="2.2" height="16.7" fill="#40b3a6"/>
<rect x="435.4" y="251.40" width="13.6" height="1.0" fill="#22315a"/>
<path d="M452.1,246.30H454.6V247.11H454.4V247.92H454.8V248.73H456.1V249.54H455.5V250.34H455.2V251.15H456.4V251.96H454.8V252.77H455.6V253.58H458.7V254.39H459.0V255.20H461.1V256.01H460.9V256.81H460.0V257.62H457.7V258.43H456.0V259.24H455.5V260.05H457.6V260.86H456.4V261.67H456.1V262.48H455.8V263.29H455.9V264.09H456.7V264.90H457.4V265.71H455.7V266.52H455.6V267.33H455.7V268.14H455.6V268.95H455.9V269.76H457.5V270.56H456.3V271.37H456.5V272.18H455.0V272.99H454.3V273.80H452.1Z" fill="#6293ea"/>
<rect x="449.9" y="252.9" width="2.2" height="8.3" fill="#e87c7c"/>
<rect x="452.1" y="255.50" width="13.6" height="1.0" fill="#22315a"/>
<path d="M468.7,259.90H474.1V260.72H478.1V261.53H480.9V262.35H478.8V263.16H474.6V263.98H474.1V264.79H473.3V265.61H474.2V266.42H474.0V267.24H472.9V268.05H472.8V268.87H473.2V269.68H471.0V270.50H468.7Z" fill="#6293ea"/>
<rect x="466.5" y="260.2" width="2.2" height="1.6" fill="#40b3a6"/>
<rect x="468.7" y="261.10" width="13.6" height="1.0" fill="#22315a"/>
<path d="M485.4,253.80H489.0V254.60H492.3V255.40H491.5V256.20H495.1V257.00H498.6V257.80H494.1V258.60H489.9V259.40H489.1V260.20H489.0V261.00H489.5V261.80H489.1V262.60H488.2V263.40H489.4V264.20H488.4V265.00H488.9V265.80H488.7V266.60H488.7V267.40H488.5V268.20H488.4V269.00H489.9V269.80H489.2V270.60H490.3V271.40H488.2V272.20H488.9V273.00H490.1V273.80H493.1V274.60H493.2V275.40H491.3V276.20H485.4Z" fill="#6293ea"/>
<rect x="483.2" y="261.2" width="2.2" height="6.8" fill="#e87c7c"/>
<rect x="485.4" y="256.80" width="13.6" height="1.0" fill="#22315a"/>
<path d="M502.1,263.20H504.1V263.99H504.1V264.78H504.0V265.57H504.3V266.37H505.4V267.16H506.1V267.95H504.4V268.74H505.2V269.53H505.9V270.32H505.7V271.11H506.1V271.91H506.9V272.70H509.1V273.49H507.0V274.28H510.8V275.07H508.2V275.86H509.2V276.65H514.6V277.45H513.7V278.24H511.3V279.03H512.2V279.82H515.3V280.61H515.3V281.40H514.3V282.19H515.3V282.99H511.9V283.78H514.8V284.57H513.3V285.36H512.0V286.15H508.6V286.94H509.5V287.73H507.7V288.53H510.1V289.32H506.7V290.11H505.6V290.90H502.1Z" fill="#6293ea"/>
<rect x="499.9" y="267.0" width="2.2" height="16.5" fill="#e87c7c"/>
<rect x="502.1" y="282.70" width="13.6" height="1.0" fill="#22315a"/>
<path d="M518.7,275.40H520.5V276.19H521.1V276.99H521.6V277.78H521.6V278.58H522.2V279.37H523.3V280.16H525.2V280.96H525.3V281.75H524.2V282.55H526.9V283.34H526.6V284.13H529.6V284.93H528.1V285.72H531.2V286.52H531.9V287.31H529.6V288.10H525.7V288.90H530.9V289.69H528.4V290.48H529.6V291.28H524.8V292.07H528.7V292.87H531.5V293.66H525.7V294.45H525.2V295.25H528.6V296.04H526.6V296.84H525.0V297.63H525.3V298.42H527.5V299.22H525.3V300.01H525.1V300.81H526.3V301.60H525.0V302.39H526.6V303.19H525.2V303.98H526.1V304.78H524.0V305.57H524.1V306.36H525.2V307.16H525.3V307.95H525.3V308.75H523.1V309.54H522.6V310.33H524.3V311.13H524.2V311.92H525.9V312.72H525.5V313.51H526.9V314.30H531.9V315.10H531.6V315.89H531.9V316.68H530.8V317.48H531.9V318.27H528.8V319.07H530.5V319.86H527.6V320.65H525.1V321.45H525.0V322.24H524.8V323.04H522.6V323.83H523.4V324.62H522.7V325.42H522.3V326.21H521.1V327.01H520.7V327.80H518.7Z" fill="#6293ea"/>
<rect x="516.5" y="282.6" width="2.2" height="28.1" fill="#e87c7c"/>
<rect x="518.7" y="316.10" width="13.6" height="1.0" fill="#22315a"/>
<path d="M535.4,300.40H537.3V301.21H537.3V302.02H537.8V302.84H537.8V303.65H537.6V304.46H538.5V305.27H541.2V306.09H543.3V306.90H548.6V307.71H544.6V308.52H543.7V309.34H545.4V310.15H542.9V310.96H541.6V311.77H543.6V312.59H542.2V313.40H542.5V314.21H542.3V315.02H540.6V315.84H538.9V316.65H539.0V317.46H538.6V318.27H538.0V319.09H537.3V319.90H535.4Z" fill="#6293ea"/>
<rect x="533.2" y="306.8" width="2.2" height="2.0" fill="#40b3a6"/>
<rect x="535.4" y="306.90" width="13.6" height="1.0" fill="#22315a"/>
<path d="M552.1,302.40H555.4V303.20H555.4V304.00H556.6V304.79H555.9V305.59H557.4V306.39H554.7V307.19H554.4V307.99H555.2V308.78H554.6V309.58H555.4V310.38H554.9V311.18H555.3V311.97H556.4V312.77H556.1V313.57H557.3V314.37H558.4V315.17H559.1V315.96H559.6V316.76H560.1V317.56H559.4V318.36H561.4V319.16H560.5V319.95H562.2V320.75H558.1V321.55H556.2V322.35H557.4V323.14H558.8V323.94H558.6V324.74H557.0V325.54H555.6V326.34H556.8V327.13H558.7V327.93H559.1V328.73H560.4V329.53H562.5V330.33H563.2V331.12H565.3V331.92H563.2V332.72H564.3V333.52H560.7V334.31H559.4V335.11H558.9V335.91H559.2V336.71H561.6V337.51H561.7V338.30H558.4V339.10H556.1V339.90H552.1Z" fill="#6293ea"/>
<rect x="549.9" y="306.8" width="2.2" height="22.4" fill="#e87c7c"/>
<rect x="552.1" y="330.60" width="13.6" height="1.0" fill="#22315a"/>
<path d="M568.7,327.20H570.3V327.98H570.6V328.76H570.7V329.54H572.3V330.32H573.7V331.10H572.7V331.88H572.6V332.66H574.2V333.44H573.8V334.22H576.1V335.00H577.5V335.78H581.6V336.56H577.3V337.34H580.5V338.12H579.6V338.90H581.9V339.68H578.6V340.46H578.8V341.24H580.5V342.02H578.0V342.80H568.7Z" fill="#6293ea"/>
<rect x="566.5" y="328.2" width="2.2" height="7.8" fill="#e87c7c"/>
<rect x="568.7" y="338.00" width="13.6" height="1.0" fill="#22315a"/>
<path d="M585.4,326.30H587.3V327.11H587.7V327.91H587.8V328.72H587.7V329.52H588.1V330.33H589.6V331.14H590.0V331.94H590.2V332.75H590.7V333.56H591.5V334.36H590.5V335.17H593.5V335.97H591.4V336.78H598.3V337.59H597.8V338.39H594.6V339.20H592.8V340.01H592.1V340.81H591.8V341.62H593.6V342.42H595.4V343.23H593.2V344.04H592.4V344.84H591.8V345.65H591.4V346.46H591.4V347.26H592.1V348.07H592.8V348.87H591.8V349.68H591.8V350.49H590.3V351.29H589.1V352.10H585.4Z" fill="#6293ea"/>
<rect x="583.2" y="329.2" width="2.2" height="6.8" fill="#40b3a6"/>
<rect x="585.4" y="336.80" width="13.6" height="1.0" fill="#22315a"/>
<path d="M602.1,292.10H604.7V292.90H605.1V293.70H606.8V294.50H606.1V295.30H606.9V296.10H607.3V296.90H610.1V297.70H609.1V298.50H610.6V299.30H612.4V300.10H611.9V300.90H611.3V301.70H614.7V302.50H614.5V303.30H613.9V304.10H613.8V304.90H611.6V305.70H609.7V306.50H608.5V307.30H612.9V308.10H609.3V308.90H610.2V309.70H610.6V310.50H606.6V311.30H611.4V312.10H607.9V312.90H607.0V313.70H609.1V314.50H607.3V315.30H605.3V316.10H607.1V316.90H607.4V317.70H607.9V318.50H608.0V319.30H608.1V320.10H604.8V320.90H607.2V321.70H606.3V322.50H605.5V323.30H606.6V324.10H606.5V324.90H606.3V325.70H605.6V326.50H610.4V327.30H608.1V328.10H608.7V328.90H612.0V329.70H609.9V330.50H609.5V331.30H607.2V332.10H604.3V332.90H602.1Z" fill="#6293ea"/>
<rect x="599.9" y="301.5" width="2.2" height="26.5" fill="#40b3a6"/>
<rect x="602.1" y="301.90" width="13.6" height="1.0" fill="#22315a"/>
<path d="M618.7,274.30H620.4V275.09H620.6V275.88H620.5V276.68H620.4V277.47H620.4V278.26H620.9V279.05H621.6V279.84H621.1V280.64H622.7V281.43H624.3V282.22H625.0V283.01H623.7V283.81H631.4V284.60H628.9V285.39H631.9V286.18H628.7V286.97H630.2V287.77H627.2V288.56H626.5V289.35H628.9V290.14H627.1V290.93H624.7V291.73H624.5V292.52H626.7V293.31H623.3V294.10H625.2V294.89H622.9V295.69H622.5V296.48H622.0V297.27H621.6V298.06H620.9V298.86H621.6V299.65H621.6V300.44H621.1V301.23H621.1V302.02H620.5V302.82H620.5V303.61H620.2V304.40H618.7Z" fill="#6293ea"/>
<rect x="616.5" y="285.0" width="2.2" height="16.8" fill="#40b3a6"/>
<rect x="618.7" y="285.40" width="13.6" height="1.0" fill="#22315a"/>
<path d="M635.4,283.40H640.3V284.20H645.7V284.99H643.5V285.79H644.9V286.58H645.7V287.38H645.5V288.18H641.2V288.97H642.7V289.77H640.0V290.57H640.6V291.36H642.1V292.16H642.0V292.95H640.1V293.75H641.0V294.55H638.8V295.34H641.4V296.14H642.3V296.93H642.9V297.73H640.7V298.53H642.2V299.32H640.8V300.12H640.8V300.92H641.4V301.71H640.7V302.51H640.6V303.30H640.4V304.10H641.9V304.90H640.4V305.69H644.1V306.49H641.6V307.28H641.5V308.08H641.1V308.88H641.5V309.67H641.3V310.47H639.9V311.27H638.9V312.06H641.3V312.86H642.8V313.65H641.9V314.45H641.8V315.25H641.2V316.04H640.8V316.84H639.6V317.63H641.1V318.43H641.1V319.23H640.3V320.02H639.7V320.82H638.4V321.62H638.4V322.41H638.5V323.21H637.6V324.00H637.1V324.80H635.4Z" fill="#6293ea"/>
<rect x="633.2" y="286.3" width="2.2" height="32.0" fill="#e87c7c"/>
<rect x="635.4" y="286.20" width="13.6" height="1.0" fill="#22315a"/>
<path d="M652.1,291.70H654.6V292.50H654.8V293.30H655.4V294.10H655.2V294.90H656.2V295.70H656.7V296.50H655.5V297.30H658.1V298.10H657.9V298.90H657.9V299.70H658.2V300.50H658.6V301.30H659.7V302.10H661.6V302.90H660.4V303.70H662.9V304.50H665.3V305.30H661.4V306.10H664.3V306.90H658.5V307.70H663.5V308.50H665.3V309.30H662.7V310.10H663.3V310.90H665.2V311.70H662.7V312.50H659.1V313.30H660.4V314.10H659.8V314.90H658.5V315.70H656.7V316.50H658.1V317.30H659.4V318.10H657.7V318.90H658.4V319.70H658.4V320.50H656.4V321.30H656.3V322.10H656.3V322.90H655.5V323.70H656.1V324.50H656.0V325.30H654.8V326.10H654.4V326.90H653.1V327.70H652.1Z" fill="#6293ea"/>
<rect x="649.9" y="294.5" width="2.2" height="23.8" fill="#40b3a6"/>
<rect x="652.1" y="304.30" width="13.6" height="1.0" fill="#22315a"/>
<path d="M668.7,287.90H673.2V288.70H677.0V289.49H681.7V290.29H681.9V291.08H676.7V291.88H678.7V292.68H676.5V293.47H675.4V294.27H675.5V295.07H677.9V295.86H675.5V296.66H675.8V297.45H675.9V298.25H673.6V299.05H675.9V299.84H676.1V300.64H674.1V301.43H673.4V302.23H672.5V303.03H672.0V303.82H673.5V304.62H671.4V305.42H671.4V306.21H670.6V307.01H670.8V307.80H670.6V308.60H668.7Z" fill="#6293ea"/>
<rect x="668.7" y="289.70" width="13.6" height="1.0" fill="#22315a"/>
<path d="M685.4,267.90H691.6V268.70H691.6V269.51H696.5V270.31H696.4V271.12H693.1V271.92H694.0V272.73H695.3V273.53H693.7V274.34H694.0V275.14H694.0V275.95H694.8V276.75H689.5V277.56H694.6V278.36H690.3V279.17H692.5V279.97H692.6V280.78H691.8V281.58H691.5V282.39H690.4V283.19H690.9V284.00H691.1V284.80H690.1V285.61H689.2V286.41H690.9V287.22H692.9V288.02H694.9V288.83H697.8V289.63H695.6V290.44H690.8V291.24H691.1V292.05H690.7V292.85H689.9V293.66H688.8V294.46H689.1V295.27H689.2V296.07H688.0V296.88H687.9V297.68H687.1V298.49H687.4V299.29H687.0V300.10H686.7V300.90H685.4Z" fill="#6293ea"/>
<rect x="683.2" y="271.7" width="2.2" height="22.3" fill="#40b3a6"/>
<rect x="685.4" y="289.30" width="13.6" height="1.0" fill="#22315a"/>
<path d="M702.1,263.40H704.3V264.20H705.2V265.00H706.7V265.80H708.5V266.60H710.8V267.40H712.3V268.20H715.3V269.01H714.7V269.81H712.2V270.61H710.7V271.41H712.5V272.21H710.6V273.01H709.8V273.81H709.7V274.61H707.0V275.41H707.3V276.21H706.7V277.01H707.4V277.81H706.0V278.62H706.9V279.42H708.3V280.22H707.7V281.02H706.4V281.82H706.7V282.62H706.8V283.42H707.2V284.22H706.6V285.02H705.9V285.82H706.3V286.62H704.9V287.42H705.4V288.23H705.2V289.03H705.7V289.83H705.9V290.63H706.5V291.43H707.2V292.23H709.0V293.03H708.4V293.83H708.4V294.63H707.2V295.43H708.9V296.23H708.4V297.03H708.9V297.84H709.0V298.64H708.2V299.44H707.6V300.24H708.3V301.04H707.9V301.84H709.6V302.64H708.7V303.44H710.1V304.24H709.8V305.04H708.1V305.84H711.3V306.64H710.1V307.45H711.5V308.25H713.0V309.05H710.8V309.85H710.3V310.65H708.2V311.45H710.1V312.25H709.8V313.05H708.9V313.85H711.4V314.65H710.8V315.45H708.8V316.25H710.4V317.06H713.2V317.86H711.8V318.66H709.2V319.46H710.1V320.26H711.4V321.06H709.3V321.86H712.1V322.66H713.1V323.46H709.7V324.26H710.8V325.06H710.4V325.86H709.9V326.67H713.0V327.47H713.8V328.27H713.6V329.07H712.6V329.87H711.5V330.67H712.1V331.47H713.2V332.27H713.5V333.07H709.5V333.87H711.2V334.67H708.0V335.47H707.5V336.28H708.0V337.08H706.6V337.88H707.5V338.68H705.6V339.48H704.7V340.28H704.6V341.08H705.5V341.88H704.7V342.68H704.9V343.48H707.5V344.28H710.2V345.08H708.9V345.89H710.5V346.69H707.8V347.49H707.7V348.29H706.7V349.09H705.4V349.89H705.1V350.69H704.5V351.49H704.3V352.29H704.2V353.09H704.2V353.89H703.9V354.69H704.2V355.50H703.8V356.30H704.6V357.10H703.6V357.90H703.5V358.70H703.6V359.50H703.5V360.30H702.1Z" fill="#6293ea"/>
<rect x="699.9" y="271.7" width="2.2" height="5.9" fill="#e87c7c"/>
<rect x="702.1" y="267.80" width="13.6" height="1.0" fill="#22315a"/>
<path d="M718.7,235.80H720.0V236.60H720.4V237.40H720.8V238.20H721.2V239.00H721.4V239.81H722.8V240.61H722.3V241.41H722.2V242.21H724.0V243.01H722.2V243.81H723.1V244.61H723.9V245.41H723.2V246.21H723.1V247.01H724.4V247.82H723.0V248.62H724.1V249.42H723.7V250.22H724.7V251.02H724.8V251.82H723.7V252.62H723.7V253.42H725.5V254.22H724.9V255.02H725.4V255.83H725.7V256.63H726.4V257.43H726.0V258.23H726.7V259.03H724.7V259.83H724.8V260.63H724.3V261.43H723.8V262.23H722.5V263.03H722.2V263.84H722.3V264.64H721.7V265.44H722.0V266.24H721.8V267.04H721.3V267.84H722.2V268.64H722.2V269.44H722.5V270.24H722.7V271.05H722.2V271.85H722.3V272.65H721.2V273.45H721.7V274.25H722.1V275.05H722.0V275.85H721.9V276.65H721.4V277.45H722.6V278.25H722.2V279.06H722.5V279.86H722.1V280.66H722.4V281.46H723.1V282.26H722.8V283.06H723.3V283.86H722.7V284.66H722.2V285.46H724.1V286.26H722.4V287.07H722.8V287.87H722.9V288.67H723.4V289.47H722.4V290.27H722.6V291.07H721.6V291.87H722.3V292.67H721.7V293.47H720.9V294.27H721.3V295.08H720.8V295.88H721.2V296.68H721.0V297.48H721.2V298.28H720.6V299.08H720.4V299.88H720.3V300.68H720.7V301.48H720.4V302.29H720.9V303.09H720.5V303.89H720.7V304.69H720.8V305.49H720.6V306.29H721.0V307.09H721.4V307.89H720.4V308.69H722.5V309.49H721.4V310.30H721.1V311.10H721.1V311.90H721.2V312.70H720.9V313.50H722.0V314.30H722.0V315.10H722.0V315.90H721.6V316.70H722.7V317.50H722.9V318.31H723.0V319.11H722.1V319.91H721.8V320.71H723.2V321.51H723.3V322.31H722.2V323.11H723.1V323.91H722.2V324.71H724.4V325.51H724.4V326.32H724.6V327.12H726.3V327.92H724.8V328.72H728.4V329.52H728.2V330.32H731.5V331.12H729.8V331.92H727.0V332.72H725.7V333.53H725.3V334.33H727.0V335.13H727.1V335.93H726.3V336.73H725.7V337.53H724.8V338.33H724.7V339.13H726.8V339.93H725.9V340.73H724.6V341.54H725.4V342.34H724.4V343.14H726.9V343.94H726.7V344.74H726.6V345.54H727.3V346.34H723.6V347.14H723.2V347.94H724.5V348.74H724.3V349.55H723.6V350.35H725.8V351.15H723.9V351.95H723.6V352.75H724.1V353.55H724.0V354.35H724.7V355.15H724.4V355.95H724.1V356.75H724.8V357.56H725.0V358.36H724.9V359.16H725.5V359.96H725.8V360.76H725.4V361.56H730.0V362.36H725.3V363.16H727.2V363.96H725.9V364.77H728.7V365.57H726.7V366.37H726.9V367.17H726.8V367.97H727.0V368.77H729.8V369.57H730.0V370.37H727.5V371.17H729.0V371.97H725.9V372.78H726.5V373.58H725.7V374.38H727.0V375.18H727.4V375.98H723.2V376.78H726.1V377.58H724.4V378.38H723.1V379.18H723.4V379.98H723.4V380.79H723.4V381.59H722.4V382.39H722.4V383.19H722.0V383.99H722.1V384.79H721.8V385.59H722.2V386.39H722.1V387.19H721.8V387.99H721.3V388.80H721.2V389.60H721.4V390.40H720.8V391.20H720.1V392.00H718.7Z" fill="#6293ea"/>
<rect x="716.5" y="277.2" width="2.2" height="108.6" fill="#e87c7c"/>
<rect x="718.7" y="330.50" width="13.6" height="1.0" fill="#22315a"/>
<path d="M735.4,383.30H736.4V384.10H736.8V384.90H737.0V385.70H737.1V386.51H737.0V387.31H737.5V388.11H737.9V388.91H737.6V389.71H738.3V390.51H737.6V391.32H738.1V392.12H738.3V392.92H739.1V393.72H737.1V394.52H738.6V395.32H738.6V396.12H739.1V396.93H740.6V397.73H738.7V398.53H739.4V399.33H739.3V400.13H739.7V400.93H740.3V401.74H741.3V402.54H740.2V403.34H740.1V404.14H741.4V404.94H741.2V405.74H740.2V406.54H740.5V407.35H743.7V408.15H741.9V408.95H740.2V409.75H740.7V410.55H742.2V411.35H744.6V412.16H742.7V412.96H743.1V413.76H741.3V414.56H740.7V415.36H740.9V416.16H740.8V416.96H740.0V417.77H739.3V418.57H738.9V419.37H738.8V420.17H738.8V420.97H739.6V421.77H740.2V422.58H738.1V423.38H739.7V424.18H740.0V424.98H742.4V425.78H739.6V426.58H740.2V427.38H741.0V428.19H744.3V428.99H740.4V429.79H740.5V430.59H740.0V431.39H739.4V432.19H738.3V433.00H738.3V433.80H738.1V434.60H737.1V435.40H737.1V436.20H737.6V437.00H737.4V437.80H738.1V438.61H736.9V439.41H737.3V440.21H737.5V441.01H737.8V441.81H737.4V442.61H737.1V443.42H736.8V444.22H736.9V445.02H737.0V445.82H736.7V446.62H737.0V447.42H737.1V448.22H737.7V449.03H737.2V449.83H737.2V450.63H737.0V451.43H737.2V452.23H736.9V453.03H736.8V453.84H736.9V454.64H737.1V455.44H737.0V456.24H736.9V457.04H737.4V457.84H737.5V458.64H737.6V459.45H737.4V460.25H737.8V461.05H737.8V461.85H737.5V462.65H737.5V463.45H738.4V464.26H737.7V465.06H739.7V465.86H738.7V466.66H740.0V467.46H739.8V468.26H739.2V469.06H741.5V469.87H739.8V470.67H739.9V471.47H742.1V472.27H742.1V473.07H742.4V473.87H741.9V474.68H743.0V475.48H743.5V476.28H741.7V477.08H744.0V477.88H745.0V478.68H745.7V479.48H744.9V480.29H743.7V481.09H746.1V481.89H743.8V482.69H744.7V483.49H742.0V484.29H743.6V485.10H745.3V485.90H742.3V486.70H740.1V487.50H741.4V488.30H740.5V489.10H739.8V489.90H740.6V490.71H739.9V491.51H740.7V492.31H739.8V493.11H739.5V493.91H739.5V494.71H741.1V495.52H739.9V496.32H739.7V497.12H739.6V497.92H739.6V498.72H740.1V499.52H739.8V500.32H740.2V501.13H738.8V501.93H741.1V502.73H739.5V503.53H739.0V504.33H741.3V505.13H739.0V505.94H740.7V506.74H739.5V507.54H741.3V508.34H740.5V509.14H741.4V509.94H742.0V510.74H743.3V511.55H744.7V512.35H744.0V513.15H743.0V513.95H745.1V514.75H745.3V515.55H746.5V516.36H746.5V517.16H746.4V517.96H746.3V518.76H747.8V519.56H746.2V520.36H742.2V521.16H740.8V521.97H741.9V522.77H741.9V523.57H743.5V524.37H745.1V525.17H743.9V525.97H745.7V526.78H745.5V527.58H744.0V528.38H744.1V529.18H748.6V529.98H747.3V530.78H742.6V531.58H742.0V532.39H740.6V533.19H741.7V533.99H739.0V534.79H739.7V535.59H737.9V536.39H738.1V537.20H738.5V538.00H737.4V538.80H737.0V539.60H735.4Z" fill="#6293ea"/>
<rect x="733.2" y="384.2" width="2.2" height="114.6" fill="#e87c7c"/>
<rect x="735.4" y="529.40" width="13.6" height="1.0" fill="#22315a"/>
<path d="M752.1,371.20H754.6V372.00H754.8V372.80H755.6V373.60H755.1V374.40H755.3V375.21H755.9V376.01H757.1V376.81H757.6V377.61H758.0V378.41H757.8V379.21H757.8V380.01H757.9V380.81H758.5V381.61H761.2V382.42H758.8V383.22H760.7V384.02H761.1V384.82H761.5V385.62H760.9V386.42H762.0V387.22H760.0V388.02H760.3V388.82H758.9V389.63H760.3V390.43H759.8V391.23H757.8V392.03H759.2V392.83H758.2V393.63H757.7V394.43H756.6V395.23H757.7V396.03H756.6V396.84H756.7V397.64H757.3V398.44H757.2V399.24H757.8V400.04H757.7V400.84H755.7V401.64H755.6V402.44H756.8V403.24H756.2V404.05H756.6V404.85H755.3V405.65H756.3V406.45H755.2V407.25H755.9V408.05H756.1V408.85H755.8V409.65H755.9V410.45H754.5V411.25H754.9V412.06H755.9V412.86H755.9V413.66H754.1V414.46H755.4V415.26H755.2V416.06H754.7V416.86H755.7V417.66H755.4V418.46H754.9V419.27H755.3V420.07H754.8V420.87H754.5V421.67H755.4V422.47H754.6V423.27H754.8V424.07H754.5V424.87H754.9V425.67H754.6V426.48H755.1V427.28H754.5V428.08H754.2V428.88H755.2V429.68H755.7V430.48H755.4V431.28H755.6V432.08H754.9V432.88H754.9V433.69H755.3V434.49H755.1V435.29H756.0V436.09H755.1V436.89H755.0V437.69H756.0V438.49H755.1V439.29H755.2V440.09H755.9V440.90H755.4V441.70H756.0V442.50H757.6V443.30H757.5V444.10H756.5V444.90H757.6V445.70H758.2V446.50H759.5V447.30H757.1V448.11H760.6V448.91H762.1V449.71H760.6V450.51H759.7V451.31H761.7V452.11H760.7V452.91H762.4V453.71H758.3V454.51H760.3V455.32H758.4V456.12H760.2V456.92H757.6V457.72H757.4V458.52H757.5V459.32H760.4V460.12H759.8V460.92H761.3V461.72H762.9V462.53H765.3V463.33H760.9V464.13H760.2V464.93H761.6V465.73H758.6V466.53H756.9V467.33H758.4V468.13H758.5V468.93H763.0V469.74H761.4V470.54H762.5V471.34H765.3V472.14H764.9V472.94H761.5V473.74H762.4V474.54H763.3V475.34H762.1V476.14H759.1V476.95H759.5V477.75H758.9V478.55H760.0V479.35H759.4V480.15H757.6V480.95H758.8V481.75H759.2V482.55H759.3V483.35H758.6V484.15H758.0V484.96H757.2V485.76H757.6V486.56H756.2V487.36H757.0V488.16H755.4V488.96H755.8V489.76H756.0V490.56H755.3V491.36H755.3V492.17H755.0V492.97H755.4V493.77H755.3V494.57H755.2V495.37H754.3V496.17H754.9V496.97H754.6V497.77H755.0V498.57H754.9V499.38H754.3V500.18H754.5V500.98H754.2V501.78H754.8V502.58H754.0V503.38H754.3V504.18H753.8V504.98H753.9V505.78H754.0V506.59H753.7V507.39H754.0V508.19H753.8V508.99H753.9V509.79H754.1V510.59H754.4V511.39H753.8V512.19H753.4V512.99H753.9V513.80H753.9V514.60H753.5V515.40H753.3V516.20H753.0V517.00H752.1Z" fill="#6293ea"/>
<rect x="749.9" y="392.4" width="2.2" height="107.0" fill="#40b3a6"/>
<rect x="752.1" y="470.70" width="13.6" height="1.0" fill="#22315a"/>
<path d="M768.7,294.80H772.3V295.60H772.3V296.40H773.6V297.20H772.2V297.99H772.7V298.79H772.2V299.59H772.9V300.39H771.8V301.19H772.3V301.99H772.0V302.78H771.5V303.58H771.6V304.38H771.7V305.18H772.2V305.98H772.5V306.78H772.3V307.58H772.6V308.37H773.8V309.17H776.2V309.97H775.3V310.77H774.7V311.57H774.4V312.37H773.8V313.16H778.6V313.96H777.0V314.76H778.5V315.56H779.6V316.36H781.9V317.16H777.3V317.96H778.1V318.75H777.8V319.55H776.6V320.35H775.8V321.15H774.7V321.95H775.1V322.75H774.3V323.55H774.1V324.34H773.9V325.14H774.7V325.94H772.1V326.74H774.5V327.54H774.4V328.34H773.0V329.13H774.0V329.93H773.3V330.73H774.3V331.53H774.1V332.33H775.2V333.13H775.3V333.93H775.8V334.72H774.5V335.52H774.5V336.32H774.9V337.12H776.4V337.92H776.0V338.72H778.0V339.51H779.3V340.31H776.9V341.11H775.2V341.91H776.5V342.71H775.1V343.51H773.8V344.31H775.1V345.10H775.8V345.90H777.5V346.70H777.3V347.50H778.1V348.30H776.4V349.10H775.6V349.89H777.5V350.69H775.4V351.49H773.5V352.29H773.4V353.09H772.5V353.89H775.2V354.69H773.6V355.48H772.7V356.28H774.3V357.08H771.7V357.88H772.3V358.68H772.5V359.48H771.5V360.27H771.7V361.07H771.6V361.87H772.6V362.67H771.7V363.47H772.4V364.27H772.5V365.07H772.2V365.86H773.2V366.66H772.3V367.46H771.6V368.26H770.9V369.06H771.4V369.86H771.6V370.65H772.0V371.45H771.2V372.25H771.6V373.05H772.2V373.85H771.7V374.65H772.2V375.45H771.1V376.24H771.9V377.04H771.3V377.84H771.0V378.64H771.8V379.44H771.2V380.24H771.7V381.04H771.5V381.83H772.8V382.63H772.1V383.43H771.6V384.23H771.6V385.03H771.4V385.83H773.5V386.62H771.6V387.42H772.1V388.22H771.9V389.02H773.2V389.82H772.9V390.62H772.3V391.42H772.6V392.21H771.8V393.01H772.1V393.81H771.9V394.61H771.5V395.41H771.0V396.21H771.0V397.00H770.0V397.80H769.7V398.60H770.4V399.40H768.7Z" fill="#6293ea"/>
<rect x="766.5" y="301.0" width="2.2" height="90.0" fill="#40b3a6"/>
<rect x="768.7" y="316.10" width="13.6" height="1.0" fill="#22315a"/>
<path d="M785.4,191.00H788.6V191.80H789.2V192.60H789.8V193.40H790.0V194.21H790.2V195.01H790.1V195.81H789.7V196.61H789.7V197.41H791.7V198.21H792.9V199.01H790.0V199.82H789.6V200.62H789.7V201.42H789.8V202.22H789.6V203.02H789.3V203.82H790.0V204.62H789.9V205.43H789.5V206.23H790.3V207.03H789.8V207.83H789.9V208.63H788.7V209.43H789.5V210.23H789.2V211.04H789.3V211.84H789.2V212.64H789.4V213.44H788.5V214.24H789.8V215.04H789.2V215.84H789.5V216.65H790.4V217.45H789.9V218.25H790.1V219.05H790.5V219.85H790.6V220.65H789.8V221.45H789.8V222.26H789.4V223.06H790.6V223.86H790.5V224.66H789.2V225.46H790.0V226.26H788.0V227.06H789.7V227.87H789.4V228.67H788.6V229.47H789.5V230.27H789.7V231.07H789.1V231.87H788.7V232.67H789.4V233.48H788.7V234.28H788.8V235.08H790.4V235.88H788.2V236.68H790.6V237.48H789.7V238.28H789.5V239.09H791.1V239.89H790.2V240.69H791.4V241.49H792.1V242.29H792.0V243.09H790.9V243.89H794.2V244.70H792.1V245.50H795.5V246.30H795.5V247.10H792.9V247.90H795.1V248.70H796.9V249.50H793.0V250.30H793.8V251.11H797.1V251.91H795.7V252.71H793.4V253.51H793.0V254.31H793.5V255.11H797.7V255.91H796.7V256.72H798.6V257.52H795.0V258.32H798.2V259.12H793.9V259.92H798.4V260.72H796.9V261.52H793.6V262.33H798.2V263.13H795.7V263.93H792.8V264.73H792.4V265.53H792.9V266.33H792.2V267.13H791.6V267.94H790.5V268.74H790.2V269.54H790.5V270.34H789.9V271.14H789.1V271.94H790.1V272.74H788.7V273.55H789.1V274.35H790.1V275.15H788.9V275.95H791.1V276.75H791.2V277.55H789.8V278.35H790.7V279.16H789.3V279.96H789.4V280.76H788.3V281.56H788.3V282.36H787.8V283.16H788.4V283.96H788.9V284.77H787.9V285.57H787.9V286.37H788.3V287.17H788.5V287.97H788.0V288.77H788.3V289.57H787.7V290.38H788.1V291.18H788.3V291.98H787.5V292.78H788.2V293.58H787.7V294.38H788.2V295.18H788.2V295.99H787.6V296.79H788.1V297.59H788.1V298.39H788.1V299.19H787.4V299.99H787.9V300.79H787.7V301.60H787.4V302.40H787.1V303.20H786.8V304.00H785.4Z" fill="#6293ea"/>
<rect x="783.2" y="215.9" width="2.2" height="86.1" fill="#40b3a6"/>
<rect x="785.4" y="256.80" width="13.6" height="1.0" fill="#22315a"/>
<path d="M802.1,129.90H803.5V130.70H803.6V131.50H804.0V132.30H804.1V133.11H804.1V133.91H804.0V134.71H804.5V135.51H804.0V136.31H804.3V137.11H804.4V137.92H805.0V138.72H806.7V139.52H806.4V140.32H806.0V141.12H806.4V141.92H807.0V142.73H807.7V143.53H808.7V144.33H809.0V145.13H809.3V145.93H812.0V146.73H813.7V147.54H809.8V148.34H811.8V149.14H810.4V149.94H808.1V150.74H813.4V151.54H814.1V152.35H810.1V153.15H809.0V153.95H815.3V154.75H814.3V155.55H813.6V156.35H813.6V157.16H811.1V157.96H810.6V158.76H813.9V159.56H814.1V160.36H815.3V161.16H811.9V161.97H808.5V162.77H809.0V163.57H811.9V164.37H809.8V165.17H811.6V165.97H813.8V166.78H810.1V167.58H809.0V168.38H809.0V169.18H808.6V169.98H811.1V170.78H810.7V171.59H811.0V172.39H813.1V173.19H811.0V173.99H811.3V174.79H809.6V175.59H811.2V176.40H810.2V177.20H809.4V178.00H812.3V178.80H810.4V179.60H810.6V180.40H810.8V181.21H812.9V182.01H813.4V182.81H813.0V183.61H815.3V184.41H812.1V185.21H812.3V186.02H810.2V186.82H808.8V187.62H806.9V188.42H806.7V189.22H805.5V190.02H805.5V190.83H806.0V191.63H806.4V192.43H805.8V193.23H806.2V194.03H806.7V194.83H807.3V195.64H806.9V196.44H808.4V197.24H808.4V198.04H807.6V198.84H808.1V199.64H808.0V200.45H808.6V201.25H809.7V202.05H806.9V202.85H809.3V203.65H810.7V204.45H810.3V205.26H807.3V206.06H810.6V206.86H809.4V207.66H809.6V208.46H807.7V209.26H809.4V210.07H810.9V210.87H812.1V211.67H810.9V212.47H809.9V213.27H812.3V214.07H809.0V214.88H810.8V215.68H811.6V216.48H808.6V217.28H810.0V218.08H808.1V218.88H809.5V219.69H808.8V220.49H806.6V221.29H807.0V222.09H806.9V222.89H806.1V223.69H804.5V224.50H804.9V225.30H805.1V226.10H803.7V226.90H802.1Z" fill="#6293ea"/>
<rect x="799.9" y="163.3" width="2.2" height="53.9" fill="#40b3a6"/>
<rect x="802.1" y="183.70" width="13.6" height="1.0" fill="#22315a"/>
<path d="M818.7,45.40H825.0V46.20H827.9V47.00H831.9V47.80H825.8V48.60H829.1V49.41H824.8V50.21H824.6V51.01H823.4V51.81H823.9V52.61H823.1V53.41H825.1V54.21H823.3V55.01H822.9V55.82H823.5V56.62H824.0V57.42H823.8V58.22H824.8V59.02H823.5V59.82H823.0V60.62H822.6V61.42H824.4V62.23H821.9V63.03H822.1V63.83H823.9V64.63H822.4V65.43H821.1V66.23H821.8V67.03H822.2V67.83H822.0V68.63H822.0V69.44H822.3V70.24H823.8V71.04H822.6V71.84H823.4V72.64H825.7V73.44H824.5V74.24H824.2V75.04H823.7V75.85H825.1V76.65H827.1V77.45H825.7V78.25H825.6V79.05H825.9V79.85H826.9V80.65H824.9V81.45H822.6V82.26H822.4V83.06H822.1V83.86H820.7V84.66H820.7V85.46H820.9V86.26H821.4V87.06H820.6V87.86H821.0V88.67H821.2V89.47H820.6V90.27H821.0V91.07H820.5V91.87H821.3V92.67H821.3V93.47H820.6V94.27H820.7V95.07H820.7V95.88H820.9V96.68H820.5V97.48H821.1V98.28H821.5V99.08H820.7V99.88H821.4V100.68H821.1V101.48H822.7V102.29H822.3V103.09H821.5V103.89H822.5V104.69H823.6V105.49H825.3V106.29H825.6V107.09H826.5V107.89H828.1V108.70H827.9V109.50H831.9V110.30H830.4V111.10H831.9V111.90H831.9V112.70H828.9V113.50H831.1V114.30H828.7V115.10H828.4V115.91H829.4V116.71H831.2V117.51H828.9V118.31H828.2V119.11H824.5V119.91H827.3V120.71H829.2V121.51H829.3V122.32H828.5V123.12H826.7V123.92H826.5V124.72H827.4V125.52H827.2V126.32H826.0V127.12H824.5V127.92H823.7V128.73H822.6V129.53H824.2V130.33H824.3V131.13H824.9V131.93H823.4V132.73H824.6V133.53H823.0V134.33H824.1V135.13H823.7V135.94H824.7V136.74H825.6V137.54H824.5V138.34H824.1V139.14H824.3V139.94H823.1V140.74H824.0V141.54H823.2V142.35H822.6V143.15H823.0V143.95H824.0V144.75H824.6V145.55H823.5V146.35H824.1V147.15H824.5V147.95H822.6V148.76H823.8V149.56H825.1V150.36H824.2V151.16H824.1V151.96H822.6V152.76H823.8V153.56H822.5V154.36H822.9V155.17H822.4V155.97H823.3V156.77H821.9V157.57H821.8V158.37H822.0V159.17H822.8V159.97H822.9V160.77H821.9V161.57H822.7V162.38H820.8V163.18H821.7V163.98H821.0V164.78H822.1V165.58H821.1V166.38H823.6V167.18H823.6V167.98H823.2V168.79H823.0V169.59H822.8V170.39H821.2V171.19H821.4V171.99H822.0V172.79H820.6V173.59H820.3V174.39H820.3V175.20H820.0V176.00H820.0V176.80H819.8V177.60H820.0V178.40H818.7Z" fill="#6293ea"/>
<rect x="816.5" y="79.0" width="2.2" height="84.3" fill="#40b3a6"/>
<rect x="818.7" y="111.30" width="13.6" height="1.0" fill="#22315a"/>
<path d="M835.4,60.00H836.3V60.81H836.5V61.61H836.3V62.42H836.7V63.22H836.9V64.03H837.0V64.83H837.1V65.64H836.7V66.44H837.4V67.25H837.1V68.06H837.3V68.86H837.5V69.67H838.0V70.47H838.1V71.28H840.6V72.08H840.7V72.89H842.3V73.69H844.5V74.50H843.6V75.31H847.8V76.11H848.6V76.92H844.3V77.72H843.7V78.53H843.7V79.33H845.3V80.14H841.6V80.94H841.9V81.75H840.6V82.56H839.4V83.36H839.5V84.17H838.5V84.97H838.3V85.78H838.4V86.58H837.9V87.39H836.8V88.19H836.4V89.00H835.4Z" fill="#6293ea"/>
<rect x="833.2" y="75.9" width="2.2" height="2.5" fill="#40b3a6"/>
<rect x="835.4" y="76.00" width="13.6" height="1.0" fill="#22315a"/>
<path d="M852.1,72.60H854.3V73.41H855.8V74.21H856.1V75.02H857.8V75.82H859.1V76.63H863.4V77.43H865.1V78.24H864.2V79.04H860.7V79.85H863.4V80.66H861.3V81.46H858.6V82.27H857.1V83.07H857.3V83.88H856.3V84.68H855.4V85.49H853.8V86.29H854.1V87.10H852.1Z" fill="#6293ea"/>
<rect x="849.9" y="75.0" width="2.2" height="2.8" fill="#e87c7c"/>
<rect x="852.1" y="76.90" width="13.6" height="1.0" fill="#22315a"/>
<path d="M868.8,75.90H875.3V76.73H876.1V77.56H876.2V78.39H879.3V79.22H882.0V80.05H879.8V80.88H880.5V81.71H877.4V82.54H877.3V83.37H876.3V84.20H868.8Z" fill="#6293ea"/>
<rect x="866.6" y="77.4" width="2.2" height="2.0" fill="#e87c7c"/>
<rect x="868.8" y="78.90" width="13.6" height="1.0" fill="#22315a"/>
<path d="M885.4,59.60H889.2V60.39H890.2V61.19H889.4V61.98H890.1V62.77H890.4V63.57H891.5V64.36H892.8V65.15H891.7V65.95H892.7V66.74H890.7V67.54H892.2V68.33H890.1V69.12H890.5V69.92H891.9V70.71H892.8V71.50H898.6V72.30H897.6V73.09H895.8V73.88H893.7V74.68H894.3V75.47H891.8V76.26H894.3V77.06H895.7V77.85H892.5V78.65H893.3V79.44H889.4V80.23H888.5V81.03H888.3V81.82H888.3V82.61H887.6V83.41H887.2V84.20H885.4Z" fill="#6293ea"/>
<rect x="883.2" y="77.4" width="2.2" height="2.0" fill="#40b3a6"/>
<rect x="885.4" y="71.70" width="13.6" height="1.0" fill="#22315a"/>
<path d="M902.1,58.00H907.2V58.81H906.6V59.62H908.3V60.42H909.1V61.23H908.0V62.04H910.2V62.85H912.5V63.66H915.3V64.47H914.1V65.27H911.7V66.08H909.9V66.89H908.9V67.70H908.7V68.51H908.3V69.32H906.7V70.12H907.5V70.93H906.8V71.74H906.0V72.55H907.1V73.36H907.5V74.17H906.8V74.98H907.8V75.78H907.8V76.59H906.5V77.40H907.3V78.21H909.4V79.02H908.9V79.83H910.5V80.63H909.4V81.44H908.7V82.25H908.3V83.06H907.2V83.87H906.7V84.68H905.8V85.48H905.0V86.29H904.7V87.10H902.1Z" fill="#6293ea"/>
<rect x="899.9" y="63.8" width="2.2" height="15.2" fill="#40b3a6"/>
<rect x="902.1" y="63.70" width="13.6" height="1.0" fill="#22315a"/>
<path d="M918.8,49.30H922.3V50.10H922.4V50.89H923.1V51.69H923.1V52.49H923.5V53.28H929.3V54.08H927.8V54.87H929.9V55.67H930.4V56.47H930.6V57.26H930.2V58.06H926.3V58.86H926.2V59.65H927.2V60.45H925.8V61.25H929.0V62.04H925.7V62.84H929.4V63.64H926.4V64.43H930.6V65.23H927.2V66.03H928.3V66.82H925.8V67.62H923.9V68.41H923.8V69.21H922.5V70.01H920.4V70.80H919.9V71.60H918.8Z" fill="#6293ea"/>
<rect x="916.6" y="60.5" width="2.2" height="4.3" fill="#40b3a6"/>
<rect x="918.8" y="55.60" width="13.6" height="1.0" fill="#22315a"/>
<path d="M935.4,42.10H939.0V42.90H943.0V43.70H944.0V44.50H942.0V45.30H941.3V46.10H940.0V46.90H941.4V47.70H942.8V48.50H942.9V49.30H944.6V50.10H944.1V50.90H942.9V51.70H943.3V52.50H942.6V53.30H942.0V54.10H939.9V54.90H944.7V55.70H946.1V56.50H943.8V57.30H942.5V58.10H943.5V58.90H946.8V59.70H944.8V60.50H945.4V61.30H945.5V62.10H948.1V62.90H945.0V63.70H945.4V64.50H943.2V65.30H945.3V66.10H941.8V66.90H940.9V67.70H940.0V68.50H938.6V69.30H935.4Z" fill="#6293ea"/>
<rect x="933.2" y="44.4" width="2.2" height="17.5" fill="#40b3a6"/>
<rect x="935.4" y="61.00" width="13.6" height="1.0" fill="#22315a"/>
<path d="M952.1,36.00H959.9V36.80H961.8V37.60H965.3V38.40H961.8V39.20H960.7V40.00H959.3V40.80H959.8V41.60H961.4V42.40H959.3V43.20H962.7V44.00H961.2V44.80H960.6V45.60H958.8V46.40H958.2V47.20H955.3V48.00H954.7V48.80H952.1Z" fill="#6293ea"/>
<rect x="949.9" y="36.6" width="2.2" height="9.4" fill="#40b3a6"/>
<rect x="952.1" y="37.40" width="13.6" height="1.0" fill="#22315a"/>
<path d="M968.8,31.00H974.9V31.79H979.1V32.57H979.4V33.36H982.0V34.15H976.4V34.93H978.0V35.72H980.7V36.51H981.0V37.29H980.5V38.08H981.5V38.87H976.6V39.65H973.6V40.44H974.3V41.23H972.2V42.01H971.0V42.80H968.8Z" fill="#6293ea"/>
<rect x="966.6" y="36.0" width="2.2" height="1.9" fill="#40b3a6"/>
<rect x="968.8" y="37.60" width="13.6" height="1.0" fill="#22315a"/>
<path d="M985.4,25.50H988.2V26.31H988.2V27.12H988.2V27.93H988.2V28.74H988.2V29.55H988.2V30.36H988.2V31.17H988.2V31.98H988.2V32.79H988.2V33.60H988.2V34.41H988.2V35.22H988.2V36.03H988.2V36.84H988.2V37.66H988.2V38.47H988.2V39.28H988.2V40.09H988.2V40.90H988.2V41.71H988.2V42.52H988.2V43.33H988.2V44.14H988.2V44.95H988.2V45.76H987.8V46.57H988.2V47.38H988.2V48.19H988.2V49.00H985.4Z" fill="#6293ea"/>
<rect x="983.2" y="36.6" width="2.2" height="10.2" fill="#e87c7c"/>
</g>
<rect x="986.3" y="42.2" width="2" height="2.4" fill="#fff"/>
<path d="M18.5,33.9H988.5" stroke="#3a3a3a" stroke-width="1.2" stroke-dasharray="1.3 2" fill="none"/>
<path d="M18,462.3H988.5" stroke="#7a7a7a" stroke-width="1" stroke-dasharray="2 2.4" fill="none"/>
<path d="M741,18.5V629" stroke="#959595" stroke-width="1.3" stroke-dasharray="2 2.75" fill="none"/>
<ellipse cx="738.3" cy="501.5" rx="15.5" ry="46.4" fill="none" stroke="#111" stroke-width="1.5"/>
<path d="M685,447.9H729" stroke="#111" stroke-width="1.1" fill="none"/>
<path d="M733.3,447.9L727.4,445.2L727.4,450.6Z" fill="#111"/>
<circle cx="673.9" cy="445.1" r="10.2" fill="#f2c50f" stroke="#111" stroke-width="1.5"/>
<text x="673.9" y="450.0" text-anchor="middle" font-size="13.5" font-weight="bold" fill="#111">1</text>
<circle cx="718.9" cy="504.3" r="10.2" fill="#f2c50f" stroke="#111" stroke-width="1.5"/>
<text x="718.9" y="509.2" text-anchor="middle" font-size="13.5" font-weight="bold" fill="#111">2</text>
<path d="M733.6,459.5v2.2a1.6,1.6 0 0 0 3.2,0" stroke="#fff" stroke-width="0.9" fill="none"/>
<rect x="988.0" y="18.5" width="1.1" height="611.0" fill="#888888"/>
<rect x="18" y="628.5" width="971.0" height="1.2" fill="#939393"/>
<text class="ax" x="992.8" y="611.6" textLength="29.3" lengthAdjust="spacingAndGlyphs">5390.00</text>
<text class="ax" x="992.8" y="579.9" textLength="29.3" lengthAdjust="spacingAndGlyphs">5400.00</text>
<text class="ax" x="992.8" y="548.1" textLength="29.3" lengthAdjust="spacingAndGlyphs">5410.00</text>
<text class="ax" x="992.8" y="516.4" textLength="29.3" lengthAdjust="spacingAndGlyphs">5420.00</text>
<text class="ax" x="992.8" y="484.7" textLength="29.3" lengthAdjust="spacingAndGlyphs">5430.00</text>
<text class="ax" x="992.8" y="452.9" textLength="29.3" lengthAdjust="spacingAndGlyphs">5440.00</text>
<text class="ax" x="992.8" y="421.2" textLength="29.3" lengthAdjust="spacingAndGlyphs">5450.00</text>
<text class="ax" x="992.8" y="389.5" textLength="29.3" lengthAdjust="spacingAndGlyphs">5460.00</text>
<text class="ax" x="992.8" y="357.8" textLength="29.3" lengthAdjust="spacingAndGlyphs">5470.00</text>
<text class="ax" x="992.8" y="326.0" textLength="29.3" lengthAdjust="spacingAndGlyphs">5480.00</text>
<text class="ax" x="992.8" y="294.3" textLength="29.3" lengthAdjust="spacingAndGlyphs">5490.00</text>
<text class="ax" x="992.8" y="262.6" textLength="29.3" lengthAdjust="spacingAndGlyphs">5500.00</text>
<text class="ax" x="992.8" y="230.8" textLength="29.3" lengthAdjust="spacingAndGlyphs">5510.00</text>
<text class="ax" x="992.8" y="199.1" textLength="29.3" lengthAdjust="spacingAndGlyphs">5520.00</text>
<text class="ax" x="992.8" y="167.4" textLength="29.3" lengthAdjust="spacingAndGlyphs">5530.00</text>
<text class="ax" x="992.8" y="135.6" textLength="29.3" lengthAdjust="spacingAndGlyphs">5540.00</text>
<text class="ax" x="992.8" y="103.9" textLength="29.3" lengthAdjust="spacingAndGlyphs">5550.00</text>
<text class="ax" x="992.8" y="72.2" textLength="29.3" lengthAdjust="spacingAndGlyphs">5560.00</text>
<text class="ax" x="992.8" y="40.5" textLength="29.3" lengthAdjust="spacingAndGlyphs">5570.00</text>
<path d="M988.9,34.2L992.4,30.000000000000004H1029V38.5H992.4Z" fill="#000"/>
<text x="993.2" y="37.2" font-size="8.4" fill="#fff" font-weight="bold" textLength="29.6" lengthAdjust="spacingAndGlyphs">5571.00</text>
<path d="M988.9,462.4L992.4,458.2H1030V466.7H992.4Z" fill="#000"/>
<text x="993.2" y="465.4" font-size="8.4" fill="#e2e2e2" textLength="29.6" lengthAdjust="spacingAndGlyphs">5436.00</text>
<clipPath id="tc"><rect x="18.6" y="629" width="1012" height="15"/></clipPath>
<g clip-path="url(#tc)">
<rect x="23.8" y="629" width="1" height="3" fill="#777"/>
<text class="ax" x="9.7" y="640.2" textLength="19.8" lengthAdjust="spacingAndGlyphs">17:00</text>
<rect x="57.1" y="629" width="1" height="3" fill="#777"/>
<text class="ax" x="43.0" y="640.2" textLength="19.8" lengthAdjust="spacingAndGlyphs">19:00</text>
<rect x="90.5" y="629" width="1" height="3" fill="#777"/>
<text class="ax" x="76.4" y="640.2" textLength="19.8" lengthAdjust="spacingAndGlyphs">22:00</text>
<rect x="123.8" y="629" width="1" height="3" fill="#777"/>
<text class="ax" x="109.7" y="640.2" textLength="19.8" lengthAdjust="spacingAndGlyphs">00:00</text>
<rect x="157.1" y="629" width="1" height="3" fill="#777"/>
<text class="ax" x="143.0" y="640.2" textLength="19.8" lengthAdjust="spacingAndGlyphs">02:00</text>
<rect x="190.5" y="629" width="1" height="3" fill="#777"/>
<text class="ax" x="176.4" y="640.2" textLength="19.8" lengthAdjust="spacingAndGlyphs">04:00</text>
<rect x="223.8" y="629" width="1" height="3" fill="#777"/>
<text class="ax" x="209.7" y="640.2" textLength="19.8" lengthAdjust="spacingAndGlyphs">06:00</text>
<rect x="257.1" y="629" width="1" height="3" fill="#777"/>
<text class="ax" x="243.0" y="640.2" textLength="19.8" lengthAdjust="spacingAndGlyphs">08:00</text>
<rect x="290.5" y="629" width="1" height="3" fill="#777"/>
<text class="ax" x="276.4" y="640.2" textLength="19.8" lengthAdjust="spacingAndGlyphs">10:00</text>
<rect x="323.8" y="629" width="1" height="3" fill="#777"/>
<text class="ax" x="309.7" y="640.2" textLength="19.8" lengthAdjust="spacingAndGlyphs">12:00</text>
<rect x="357.1" y="629" width="1" height="3" fill="#777"/>
<text class="ax" x="343.0" y="640.2" textLength="19.8" lengthAdjust="spacingAndGlyphs">14:00</text>
<rect x="390.5" y="629" width="1" height="3" fill="#777"/>
<text class="ax" x="376.4" y="640.2" textLength="19.8" lengthAdjust="spacingAndGlyphs">16:00</text>
<rect x="423.8" y="629" width="1" height="3" fill="#777"/>
<text class="ax" x="409.7" y="640.2" textLength="19.8" lengthAdjust="spacingAndGlyphs">18:00</text>
<rect x="457.1" y="629" width="1" height="3" fill="#777"/>
<text class="ax" x="443.0" y="640.2" textLength="19.8" lengthAdjust="spacingAndGlyphs">20:00</text>
<rect x="490.5" y="629" width="1" height="3" fill="#777"/>
<text class="ax" x="476.4" y="640.2" textLength="19.8" lengthAdjust="spacingAndGlyphs">23:00</text>
<rect x="523.8" y="629" width="1" height="3" fill="#777"/>
<text class="ax" x="509.7" y="640.2" textLength="19.8" lengthAdjust="spacingAndGlyphs">01:00</text>
<rect x="557.1" y="629" width="1" height="3" fill="#777"/>
<text class="ax" x="543.0" y="640.2" textLength="19.8" lengthAdjust="spacingAndGlyphs">03:00</text>
<rect x="590.5" y="629" width="1" height="3" fill="#777"/>
<text class="ax" x="576.4" y="640.2" textLength="19.8" lengthAdjust="spacingAndGlyphs">05:00</text>
<rect x="623.8" y="629" width="1" height="3" fill="#777"/>
<text class="ax" x="609.7" y="640.2" textLength="19.8" lengthAdjust="spacingAndGlyphs">07:00</text>
<rect x="657.1" y="629" width="1" height="3" fill="#777"/>
<text class="ax" x="643.0" y="640.2" textLength="19.8" lengthAdjust="spacingAndGlyphs">09:00</text>
<rect x="690.5" y="629" width="1" height="3" fill="#777"/>
<text class="ax" x="676.4" y="640.2" textLength="19.8" lengthAdjust="spacingAndGlyphs">11:00</text>
<rect x="723.8" y="629" width="1" height="3" fill="#777"/>
<rect x="757.1" y="629" width="1" height="3" fill="#777"/>
<rect x="790.5" y="629" width="1" height="3" fill="#777"/>
<text class="ax" x="776.4" y="640.2" textLength="19.8" lengthAdjust="spacingAndGlyphs">17:00</text>
<rect x="823.8" y="629" width="1" height="3" fill="#777"/>
<text class="ax" x="809.7" y="640.2" textLength="19.8" lengthAdjust="spacingAndGlyphs">19:00</text>
<rect x="857.1" y="629" width="1" height="3" fill="#777"/>
<text class="ax" x="843.0" y="640.2" textLength="19.8" lengthAdjust="spacingAndGlyphs">22:00</text>
<rect x="890.5" y="629" width="1" height="3" fill="#777"/>
<text class="ax" x="876.4" y="640.2" textLength="19.8" lengthAdjust="spacingAndGlyphs">00:00</text>
<rect x="923.8" y="629" width="1" height="3" fill="#777"/>
<text class="ax" x="909.7" y="640.2" textLength="19.8" lengthAdjust="spacingAndGlyphs">02:00</text>
<rect x="957.1" y="629" width="1" height="3" fill="#777"/>
<text class="ax" x="943.0" y="640.2" textLength="19.8" lengthAdjust="spacingAndGlyphs">04:00</text>
<rect x="990.5" y="629" width="1" height="3" fill="#777"/>
<text class="ax" x="976.4" y="640.2" textLength="19.8" lengthAdjust="spacingAndGlyphs">06:00</text>
</g>
<rect x="699.2" y="632.2" width="85.7" height="9.6" fill="#000"/>
<clipPath id="tt"><rect x="699.6" y="632.2" width="85" height="9.6"/></clipPath>
<text clip-path="url(#tt)" x="697.2" y="640.2" font-size="8.6" fill="#f4f4f4" textLength="80.7" lengthAdjust="spacingAndGlyphs">11 Sep 2024 14:00:00</text>
<rect x="18" y="642.6" width="1012" height="1.4" fill="#e9e9ee"/>
<rect x="963.6" y="20.2" width="11.2" height="10.8" fill="#fff" stroke="#8c8c8c" stroke-width="0.9"/>
<path d="M966.5,22.3L970.6,25.5L966.5,28.7Z" fill="#000"/><rect x="970.5" y="22.3" width="1.3" height="6.4" fill="#000"/>
<rect x="1022" y="20.2" width="7" height="6.4" fill="#fff" stroke="#8a8a8a" stroke-width="0.8"/>
<text x="1023.9" y="25.6" font-size="5.6" fill="#666">F</text>
<text x="22.8" y="29.4" font-size="8.5" fill="#333" textLength="274" lengthAdjust="spacingAndGlyphs">2024.11.09 14:00:00 O:5460.25 H:5461.00 L:5412.00 C:5424.25 V:338725</text>
<rect x="0" y="0" width="18" height="644" fill="#ececf3"/>
<rect x="0" y="0" width="1.2" height="644" fill="#3a8dc6"/>
<rect x="1.2" y="0" width="1030" height="18.5" fill="#f3f3f8"/>
<rect x="0" y="0" width="1030" height="0.8" fill="#e2e2ea"/>
<path d="M3.9,8.8L6.6,3.8H12L14.8,8.8L12,13.8H6.6Z" fill="#111"/>
<circle cx="9.5" cy="8.8" r="3.4" fill="#fff"/>
<path d="M7.5,6.6H11.3L7.7,11H11.6" fill="none" stroke="#111" stroke-width="1.15" stroke-linejoin="miter"/>
<path d="M9.4,11L11.9,11L10.9,8.6Z" fill="#111"/>
<text x="20.2" y="11.5" font-size="8.5" fill="#3a3a3a" textLength="47.8" lengthAdjust="spacingAndGlyphs">#ESU4@CME</text>
<g fill="none" stroke="#6a6a6a" stroke-width="0.9"><circle cx="75.1" cy="8.2" r="3.2"/><path d="M77.4,10.5L80.2,12.5"/></g>
<text x="85.9" y="11.5" font-size="8.5" fill="#3a3a3a" textLength="30.3" lengthAdjust="spacingAndGlyphs">H1 chart</text>
<path d="M120.8,7.2H125.8L123.3,9.8Z" fill="#111"/>
<text x="130.7" y="11.5" font-size="8.5" fill="#3a3a3a" textLength="20.9" lengthAdjust="spacingAndGlyphs">1 Lots</text>
<path d="M156.6,7.2H161.4L159.0,9.8Z" fill="#111"/>
<rect x="166.6" y="3.9" width="9.8" height="6.6" rx="1" fill="#d4d4d8" stroke="#7a7a7a" stroke-width="0.8"/>
<rect x="170.6" y="4.4" width="2.6" height="4.6" fill="#aaa"/>
<path d="M171.5,10.5V12.2M169.2,12.3H174" stroke="#7a7a7a" stroke-width="0.9" fill="none"/>
<path d="M181.1,7.2H185.9L183.5,9.8Z" fill="#111"/>
<g fill="#f6f6fa" stroke="#777" stroke-width="0.8"><path d="M191.8,12.4L192.4,10.2L198.9,3.9a1,1 0 0 1 1.5,0l0.3,0.4a1,1 0 0 1 0,1.4L194.1,12Z"/></g>
<path d="M206.0,7.2H210.8L208.4,9.8Z" fill="#111"/>
<g fill="none" stroke="#6a6a6a" stroke-width="0.9"><circle cx="220.6" cy="8" r="3.7"/><path d="M223.3,10.7L225.3,12.5M218.8,8H222.4M220.6,6.2V9.8"/></g>
<g fill="none" stroke="#6a6a6a" stroke-width="0.9"><path d="M234.4,3.9V12.2H242.8M236,9.3L238.2,7.4L239.5,8.7L242.2,6.1"/></g>
<text x="246.6" y="11.5" font-size="8.5" fill="#3a3a3a" textLength="35.1" lengthAdjust="spacingAndGlyphs">Indicators</text>
<g fill="none" stroke="#6a6a6a" stroke-width="0.9"><circle cx="291.4" cy="8.3" r="4.4"/><path d="M291.4,3.9V5.6M291.4,11V12.7M287,8.3H288.7M294.1,8.3H295.8"/></g>
<text x="299.4" y="11.5" font-size="8.5" fill="#3a3a3a" textLength="33.5" lengthAdjust="spacingAndGlyphs">Crosshair</text>
<path d="M347.4,7.2H352.2L349.8,9.8Z" fill="#111"/>
<g stroke="#777" stroke-width="0.8"><rect x="360" y="4.8" width="6.4" height="5" rx="0.8" fill="#d8d8dc"/><rect x="358.4" y="6.2" width="6.6" height="5.4" rx="0.8" fill="#f6f6fa"/><rect x="358.4" y="6.2" width="6.6" height="1.8" fill="#9a9a9a" stroke="none"/></g>
<path d="M372.2,7.2H377.1L374.7,9.8Z" fill="#111"/>
<text x="620.9" y="11.5" font-size="8.5" fill="#444" textLength="19.9" lengthAdjust="spacingAndGlyphs">Chart</text>
<g fill="none" stroke="#666" stroke-width="0.9"><path d="M889.4,12.8L893,10.2M890.6,10H893.2V12.4"/><path d="M898,5L894.9,7.7M897.4,8H894.7V5.6"/></g>
<path d="M903.5,7.5H908.5L906.0,10.1Z" fill="#111"/>
<g fill="none" stroke="#777" stroke-width="0.9"><path d="M914.2,6.7H916.2L917,5.2H920L920.8,6.7H922.7a0.8,0.8 0 0 1 .8,.8V11.6a0.8,0.8 0 0 1 -.8,.8H914.2a0.8,0.8 0 0 1 -.8,-.8V7.5a0.8,0.8 0 0 1 .8,-.8Z"/><circle cx="918.4" cy="9.4" r="1.5"/></g>
<path d="M928.2,7.5H933.2L930.7,10.1Z" fill="#111"/>
<g fill="none" stroke="#666" stroke-width="0.9"><path d="M941.6,7.6L938.9,5M938.8,7V4.9H941"/><path d="M945,7.6L947.7,5M947.8,7V4.9H945.6"/><path d="M941.6,9.9L938.9,12.5M938.8,10.5V12.6H941"/><path d="M945,9.9L947.7,12.5M947.8,10.5V12.6H945.6"/></g>
<circle cx="960.9" cy="8.5" r="4.9" fill="#fff" stroke="#c8c8cc" stroke-width="0.8"/>
<path d="M970.4,7.5H975.4L972.9,10.1Z" fill="#111"/>
<g fill="none" stroke="#777" stroke-width="0.9"><path d="M981,8.7L983.3,4.7H988L990.4,8.7L988,12.8H983.3Z" stroke-linejoin="round"/><circle cx="985.7" cy="8.7" r="1.7"/></g>
<g stroke="#333" stroke-width="0.9"><rect x="1003.2" y="5.3" width="3.4" height="3.3" fill="#aaa"/><path d="M1002.2,8.9H1007.4M1004.7,9.2V12.5" fill="none"/></g>
<path d="M1019.7,6.3L1025.5,11.6M1025.5,6.3L1019.7,11.6" stroke="#111" stroke-width="1.3" fill="none"/>
<g stroke="#b9b9c2" stroke-width="0.5" fill="none"><path d="M3.2,20.2l3,3.2m0,-3.2l-3,3.2"/><path d="M6.2,20.2l3,3.2m0,-3.2l-3,3.2"/><path d="M9.2,20.2l3,3.2m0,-3.2l-3,3.2"/><path d="M12.2,20.2l3,3.2m0,-3.2l-3,3.2"/></g>
<g fill="none" stroke="#777" stroke-width="0.8"><path d="M3.2,33.6L5.5,29.4H10.4L12.7,33.6L10.4,37.8H5.5Z" stroke-linejoin="round"/><circle cx="7.95" cy="33.6" r="1.8"/></g>
<path d="M7.9,43.3L11.3,45.7L7.9,48.1Z" fill="#111"/>
<text transform="translate(4.6,53) rotate(90)" font-size="8.7" fill="#333" textLength="28.0" lengthAdjust="spacingAndGlyphs">Volume</text>
<path d="M7.9,85.1L11.3,87.5L7.9,89.9Z" fill="#111"/>
<text transform="translate(4.6,95.5) rotate(90)" font-size="8.7" fill="#333" textLength="23.5" lengthAdjust="spacingAndGlyphs">Trades</text>
<path d="M7.9,121.9L11.3,124.3L7.9,126.7Z" fill="#111"/>
<text transform="translate(4.6,132.4) rotate(90)" font-size="8.7" fill="#333" textLength="30.1" lengthAdjust="spacingAndGlyphs">Bid x Ask</text>
<path d="M7.9,169.4L11.3,171.8L7.9,174.2Z" fill="#111"/>
<text transform="translate(4.6,179.6) rotate(90)" font-size="8.7" fill="#333" textLength="19.3" lengthAdjust="spacingAndGlyphs">Delta</text>
<path d="M7.9,202.6L11.3,205.0L7.9,207.4Z" fill="#111"/>
</svg></body></html>
